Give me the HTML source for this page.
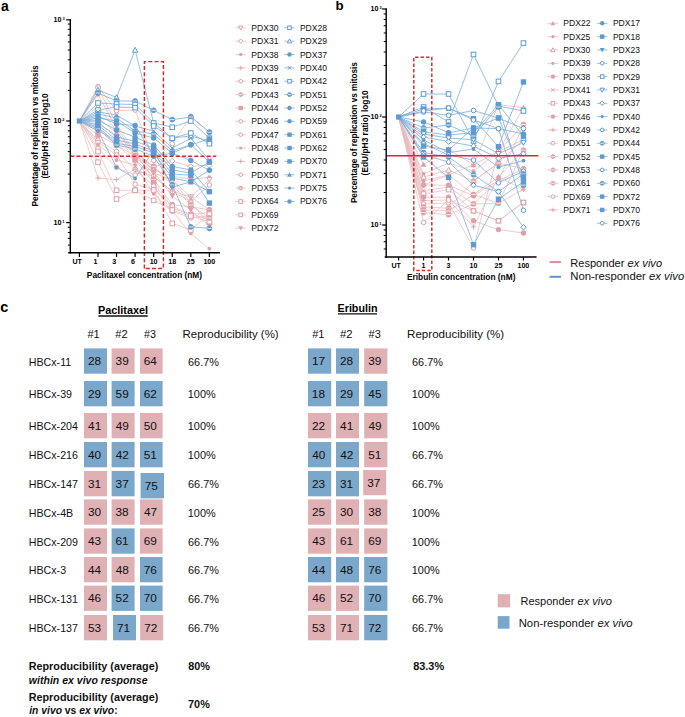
<!DOCTYPE html>
<html><head><meta charset="utf-8"><style>
html,body{margin:0;padding:0;background:#fff;}
body{width:685px;height:717px;overflow:hidden;}
svg{display:block;font-family:"Liberation Sans",sans-serif;}
</style></head><body>
<svg width="685" height="717" viewBox="0 0 685 717">
<rect width="685" height="717" fill="#fff"/>
<text x="0.88" y="10.5" font-size="14" font-weight="bold" font-style="normal" fill="#000" xml:space="preserve">a</text>
<text x="335.54" y="10.4" font-size="13.3" font-weight="bold" font-style="normal" fill="#000" xml:space="preserve">b</text>
<text x="0.32" y="311.9" font-size="14.5" font-weight="bold" font-style="normal" fill="#000" xml:space="preserve">c</text>
<polyline points="79.4,121 97.97,86.6 116.54,110.7 135.11,110 153.68,160.4 172.25,143.7 190.82,116.3 209.39,132.2" fill="none" stroke="#e9b9be" stroke-width="0.75"/>
<polyline points="79.4,121 97.97,88 116.54,124 135.11,152.5 153.68,166.4 172.25,161 190.82,166.4 209.39,165.3" fill="none" stroke="#e9b9be" stroke-width="0.75"/>
<polyline points="79.4,121 97.97,94.8 116.54,128 135.11,155 153.68,169.7 172.25,176.3 190.82,179 209.39,177.4" fill="none" stroke="#e9b9be" stroke-width="0.75"/>
<polyline points="79.4,121 97.97,106.6 116.54,131 135.11,157 153.68,173 172.25,180 190.82,197 209.39,179.6" fill="none" stroke="#e9b9be" stroke-width="0.75"/>
<polyline points="79.4,121 97.97,124 116.54,135 135.11,159.6 153.68,176.3 172.25,191.6 190.82,201.5 209.39,185" fill="none" stroke="#e9b9be" stroke-width="0.75"/>
<polyline points="79.4,121 97.97,131 116.54,140 135.11,152.5 153.68,179.6 172.25,204.7 190.82,207 209.39,209.7" fill="none" stroke="#e9b9be" stroke-width="0.75"/>
<polyline points="79.4,121 97.97,135.1 116.54,145 135.11,160 153.68,182.8 172.25,208 190.82,214.6 209.39,212.4" fill="none" stroke="#e9b9be" stroke-width="0.75"/>
<polyline points="79.4,121 97.97,140.2 116.54,151.5 135.11,169.3 153.68,186.1 172.25,211.3 190.82,217.9 209.39,215.7" fill="none" stroke="#e9b9be" stroke-width="0.75"/>
<polyline points="79.4,121 97.97,142.3 116.54,155 135.11,184.2 153.68,189.4 172.25,206 190.82,214.6 209.39,219" fill="none" stroke="#e9b9be" stroke-width="0.75"/>
<polyline points="79.4,121 97.97,144.3 116.54,160 135.11,165 153.68,193.8 172.25,211 190.82,233.4 209.39,248.7" fill="none" stroke="#e9b9be" stroke-width="0.75"/>
<polyline points="79.4,121 97.97,148.4 116.54,167.3 135.11,175 153.68,168 172.25,180 190.82,203 209.39,223.4" fill="none" stroke="#e9b9be" stroke-width="0.75"/>
<polyline points="79.4,121 97.97,151.5 116.54,190.3 135.11,190.3 153.68,200.4 172.25,210 190.82,216 209.39,222" fill="none" stroke="#e9b9be" stroke-width="0.75"/>
<polyline points="79.4,121 97.97,162.2 116.54,199 135.11,190.3 153.68,190 172.25,223.4 190.82,230 209.39,214" fill="none" stroke="#e9b9be" stroke-width="0.75"/>
<polyline points="79.4,121 97.97,178 116.54,179.6 135.11,169.3 153.68,177 172.25,191 190.82,197 209.39,210" fill="none" stroke="#e9b9be" stroke-width="0.75"/>
<polyline points="79.4,121 97.97,128 116.54,145 135.11,156 153.68,166.4 172.25,185 190.82,205 209.39,218" fill="none" stroke="#e9b9be" stroke-width="0.75"/>
<polyline points="79.4,121 97.97,118 116.54,133 135.11,150 153.68,172 172.25,196 190.82,210 209.39,226" fill="none" stroke="#e9b9be" stroke-width="0.75"/>
<polyline points="79.4,121 97.97,90 116.54,97.4 135.11,50 153.68,123 172.25,138 190.82,136 209.39,141" fill="none" stroke="#7aaedb" stroke-width="0.8"/>
<polyline points="79.4,121 97.97,93 116.54,101 135.11,101 153.68,110.3 172.25,119.6 190.82,117 209.39,132.2" fill="none" stroke="#7aaedb" stroke-width="0.8"/>
<polyline points="79.4,121 97.97,103 116.54,104 135.11,104.5 153.68,123 172.25,127.2 190.82,121 209.39,138.2" fill="none" stroke="#7aaedb" stroke-width="0.8"/>
<polyline points="79.4,121 97.97,110 116.54,107 135.11,107.6 153.68,126 172.25,138.2 190.82,133 209.39,143.7" fill="none" stroke="#7aaedb" stroke-width="0.8"/>
<polyline points="79.4,121 97.97,112 116.54,115 135.11,126 153.68,131 172.25,148 190.82,138.2 209.39,160" fill="none" stroke="#7aaedb" stroke-width="0.8"/>
<polyline points="79.4,121 97.97,114 116.54,118 135.11,131 153.68,134 172.25,151 190.82,144.7 209.39,162" fill="none" stroke="#7aaedb" stroke-width="0.8"/>
<polyline points="79.4,121 97.97,118 116.54,121 135.11,133 153.68,138 172.25,153.3 190.82,160.4 209.39,170.3" fill="none" stroke="#7aaedb" stroke-width="0.8"/>
<polyline points="79.4,121 97.97,120 116.54,130 135.11,137.2 153.68,145 172.25,166.4 190.82,170 209.39,191.6" fill="none" stroke="#7aaedb" stroke-width="0.8"/>
<polyline points="79.4,121 97.97,122 116.54,137 135.11,141.3 153.68,148 172.25,170 190.82,173 209.39,162" fill="none" stroke="#7aaedb" stroke-width="0.8"/>
<polyline points="79.4,121 97.97,125 116.54,140 135.11,144 153.68,151 172.25,174 190.82,175.2 209.39,203.1" fill="none" stroke="#7aaedb" stroke-width="0.8"/>
<polyline points="79.4,121 97.97,127 116.54,143.4 135.11,146.4 153.68,153 172.25,178 190.82,181.8 209.39,191.6" fill="none" stroke="#7aaedb" stroke-width="0.8"/>
<polyline points="79.4,121 97.97,129 116.54,145 135.11,149 153.68,156 172.25,185 190.82,226.9 209.39,228.4" fill="none" stroke="#7aaedb" stroke-width="0.8"/>
<polyline points="79.4,121 97.97,131 116.54,167.3 135.11,178.5 153.68,150 172.25,187.2 190.82,181.8 209.39,170.3" fill="none" stroke="#7aaedb" stroke-width="0.8"/>
<polyline points="79.4,121 97.97,116 116.54,124 135.11,125.5 153.68,155.7 172.25,153.3 190.82,144.7 209.39,139" fill="none" stroke="#7aaedb" stroke-width="0.8"/>
<circle cx="97.97" cy="86.6" r="2.3" fill="#fff" stroke="#dfa1a8" stroke-width="1"/>
<circle cx="116.54" cy="110.7" r="2.3" fill="#fff" stroke="#dfa1a8" stroke-width="1"/>
<circle cx="135.11" cy="110" r="2.3" fill="#fff" stroke="#dfa1a8" stroke-width="1"/>
<circle cx="153.68" cy="160.4" r="2.3" fill="#fff" stroke="#dfa1a8" stroke-width="1"/>
<circle cx="172.25" cy="143.7" r="2.3" fill="#fff" stroke="#dfa1a8" stroke-width="1"/>
<circle cx="190.82" cy="116.3" r="2.3" fill="#fff" stroke="#dfa1a8" stroke-width="1"/>
<circle cx="209.39" cy="132.2" r="2.3" fill="#fff" stroke="#dfa1a8" stroke-width="1"/>
<path d="M97.97 85.3L100.67 88L97.97 90.7L95.27 88Z" fill="#fff" stroke="#dfa1a8" stroke-width="1"/>
<path d="M116.54 121.3L119.24 124L116.54 126.7L113.84 124Z" fill="#fff" stroke="#dfa1a8" stroke-width="1"/>
<path d="M135.11 149.8L137.81 152.5L135.11 155.2L132.41 152.5Z" fill="#fff" stroke="#dfa1a8" stroke-width="1"/>
<path d="M153.68 163.7L156.38 166.4L153.68 169.1L150.98 166.4Z" fill="#fff" stroke="#dfa1a8" stroke-width="1"/>
<path d="M172.25 158.3L174.95 161L172.25 163.7L169.55 161Z" fill="#fff" stroke="#dfa1a8" stroke-width="1"/>
<path d="M190.82 163.7L193.52 166.4L190.82 169.1L188.12 166.4Z" fill="#fff" stroke="#dfa1a8" stroke-width="1"/>
<path d="M209.39 162.6L212.09 165.3L209.39 168L206.69 165.3Z" fill="#fff" stroke="#dfa1a8" stroke-width="1"/>
<circle cx="97.97" cy="94.8" r="2.03" fill="#dfa1a8"/>
<circle cx="116.54" cy="128" r="2.03" fill="#dfa1a8"/>
<circle cx="135.11" cy="155" r="2.03" fill="#dfa1a8"/>
<circle cx="153.68" cy="169.7" r="2.03" fill="#dfa1a8"/>
<circle cx="172.25" cy="176.3" r="2.03" fill="#dfa1a8"/>
<circle cx="190.82" cy="179" r="2.03" fill="#dfa1a8"/>
<circle cx="209.39" cy="177.4" r="2.03" fill="#dfa1a8"/>
<path d="M97.97 109.3L100.67 104.44L95.27 104.44Z" fill="#fff" stroke="#dfa1a8" stroke-width="1"/>
<path d="M116.54 133.7L119.24 128.84L113.84 128.84Z" fill="#fff" stroke="#dfa1a8" stroke-width="1"/>
<path d="M135.11 159.7L137.81 154.84L132.41 154.84Z" fill="#fff" stroke="#dfa1a8" stroke-width="1"/>
<path d="M153.68 175.7L156.38 170.84L150.98 170.84Z" fill="#fff" stroke="#dfa1a8" stroke-width="1"/>
<path d="M172.25 182.7L174.95 177.84L169.55 177.84Z" fill="#fff" stroke="#dfa1a8" stroke-width="1"/>
<path d="M190.82 199.7L193.52 194.84L188.12 194.84Z" fill="#fff" stroke="#dfa1a8" stroke-width="1"/>
<path d="M209.39 182.3L212.09 177.44L206.69 177.44Z" fill="#fff" stroke="#dfa1a8" stroke-width="1"/>
<circle cx="97.97" cy="124" r="2.3" fill="#fff" stroke="#dfa1a8" stroke-width="1"/>
<circle cx="116.54" cy="135" r="2.3" fill="#fff" stroke="#dfa1a8" stroke-width="1"/>
<circle cx="135.11" cy="159.6" r="2.3" fill="#fff" stroke="#dfa1a8" stroke-width="1"/>
<circle cx="153.68" cy="176.3" r="2.3" fill="#fff" stroke="#dfa1a8" stroke-width="1"/>
<circle cx="172.25" cy="191.6" r="2.3" fill="#fff" stroke="#dfa1a8" stroke-width="1"/>
<circle cx="190.82" cy="201.5" r="2.3" fill="#fff" stroke="#dfa1a8" stroke-width="1"/>
<circle cx="209.39" cy="185" r="2.3" fill="#fff" stroke="#dfa1a8" stroke-width="1"/>
<circle cx="97.97" cy="131" r="2.4" fill="#dfa1a8" stroke="#dfa1a8" stroke-width="1"/>
<line x1="95.77" y1="131" x2="100.17" y2="131" stroke="#fff" stroke-width="0.8"/>
<circle cx="116.54" cy="140" r="2.4" fill="#dfa1a8" stroke="#dfa1a8" stroke-width="1"/>
<line x1="114.34" y1="140" x2="118.74" y2="140" stroke="#fff" stroke-width="0.8"/>
<circle cx="135.11" cy="152.5" r="2.4" fill="#dfa1a8" stroke="#dfa1a8" stroke-width="1"/>
<line x1="132.91" y1="152.5" x2="137.31" y2="152.5" stroke="#fff" stroke-width="0.8"/>
<circle cx="153.68" cy="179.6" r="2.4" fill="#dfa1a8" stroke="#dfa1a8" stroke-width="1"/>
<line x1="151.48" y1="179.6" x2="155.88" y2="179.6" stroke="#fff" stroke-width="0.8"/>
<circle cx="172.25" cy="204.7" r="2.4" fill="#dfa1a8" stroke="#dfa1a8" stroke-width="1"/>
<line x1="170.05" y1="204.7" x2="174.45" y2="204.7" stroke="#fff" stroke-width="0.8"/>
<circle cx="190.82" cy="207" r="2.4" fill="#dfa1a8" stroke="#dfa1a8" stroke-width="1"/>
<line x1="188.62" y1="207" x2="193.02" y2="207" stroke="#fff" stroke-width="0.8"/>
<circle cx="209.39" cy="209.7" r="2.4" fill="#dfa1a8" stroke="#dfa1a8" stroke-width="1"/>
<line x1="207.19" y1="209.7" x2="211.59" y2="209.7" stroke="#fff" stroke-width="0.8"/>
<rect x="95.27" y="132.4" width="5.4" height="5.4" fill="#dfa1a8"/>
<rect x="113.84" y="142.3" width="5.4" height="5.4" fill="#dfa1a8"/>
<rect x="132.41" y="157.3" width="5.4" height="5.4" fill="#dfa1a8"/>
<rect x="150.98" y="180.1" width="5.4" height="5.4" fill="#dfa1a8"/>
<rect x="169.55" y="205.3" width="5.4" height="5.4" fill="#dfa1a8"/>
<rect x="188.12" y="211.9" width="5.4" height="5.4" fill="#dfa1a8"/>
<rect x="206.69" y="209.7" width="5.4" height="5.4" fill="#dfa1a8"/>
<circle cx="97.97" cy="140.2" r="2.3" fill="#fff" stroke="#dfa1a8" stroke-width="1"/>
<circle cx="116.54" cy="151.5" r="2.3" fill="#fff" stroke="#dfa1a8" stroke-width="1"/>
<circle cx="135.11" cy="169.3" r="2.3" fill="#fff" stroke="#dfa1a8" stroke-width="1"/>
<circle cx="153.68" cy="186.1" r="2.3" fill="#fff" stroke="#dfa1a8" stroke-width="1"/>
<circle cx="172.25" cy="211.3" r="2.3" fill="#fff" stroke="#dfa1a8" stroke-width="1"/>
<circle cx="190.82" cy="217.9" r="2.3" fill="#fff" stroke="#dfa1a8" stroke-width="1"/>
<circle cx="209.39" cy="215.7" r="2.3" fill="#fff" stroke="#dfa1a8" stroke-width="1"/>
<circle cx="97.97" cy="142.3" r="2.3" fill="#fff" stroke="#dfa1a8" stroke-width="1"/>
<circle cx="116.54" cy="155" r="2.3" fill="#fff" stroke="#dfa1a8" stroke-width="1"/>
<circle cx="135.11" cy="184.2" r="2.3" fill="#fff" stroke="#dfa1a8" stroke-width="1"/>
<circle cx="153.68" cy="189.4" r="2.3" fill="#fff" stroke="#dfa1a8" stroke-width="1"/>
<circle cx="172.25" cy="206" r="2.3" fill="#fff" stroke="#dfa1a8" stroke-width="1"/>
<circle cx="190.82" cy="214.6" r="2.3" fill="#fff" stroke="#dfa1a8" stroke-width="1"/>
<circle cx="209.39" cy="219" r="2.3" fill="#fff" stroke="#dfa1a8" stroke-width="1"/>
<circle cx="97.97" cy="144.3" r="1.89" fill="#dfa1a8"/>
<circle cx="116.54" cy="160" r="1.89" fill="#dfa1a8"/>
<circle cx="135.11" cy="165" r="1.89" fill="#dfa1a8"/>
<circle cx="153.68" cy="193.8" r="1.89" fill="#dfa1a8"/>
<circle cx="172.25" cy="211" r="1.89" fill="#dfa1a8"/>
<circle cx="190.82" cy="233.4" r="1.89" fill="#dfa1a8"/>
<circle cx="209.39" cy="248.7" r="1.89" fill="#dfa1a8"/>
<circle cx="97.97" cy="148.4" r="2.3" fill="#fff" stroke="#dfa1a8" stroke-width="1"/>
<circle cx="116.54" cy="167.3" r="2.3" fill="#fff" stroke="#dfa1a8" stroke-width="1"/>
<circle cx="135.11" cy="175" r="2.3" fill="#fff" stroke="#dfa1a8" stroke-width="1"/>
<circle cx="153.68" cy="168" r="2.3" fill="#fff" stroke="#dfa1a8" stroke-width="1"/>
<circle cx="172.25" cy="180" r="2.3" fill="#fff" stroke="#dfa1a8" stroke-width="1"/>
<circle cx="190.82" cy="203" r="2.3" fill="#fff" stroke="#dfa1a8" stroke-width="1"/>
<circle cx="209.39" cy="223.4" r="2.3" fill="#fff" stroke="#dfa1a8" stroke-width="1"/>
<rect x="95.67" y="149.2" width="4.6" height="4.6" fill="#fff" stroke="#dfa1a8" stroke-width="1"/>
<rect x="114.24" y="188" width="4.6" height="4.6" fill="#fff" stroke="#dfa1a8" stroke-width="1"/>
<rect x="132.81" y="188" width="4.6" height="4.6" fill="#fff" stroke="#dfa1a8" stroke-width="1"/>
<rect x="151.38" y="198.1" width="4.6" height="4.6" fill="#fff" stroke="#dfa1a8" stroke-width="1"/>
<rect x="169.95" y="207.7" width="4.6" height="4.6" fill="#fff" stroke="#dfa1a8" stroke-width="1"/>
<rect x="188.52" y="213.7" width="4.6" height="4.6" fill="#fff" stroke="#dfa1a8" stroke-width="1"/>
<rect x="207.09" y="219.7" width="4.6" height="4.6" fill="#fff" stroke="#dfa1a8" stroke-width="1"/>
<rect x="95.67" y="159.9" width="4.6" height="4.6" fill="#fff" stroke="#dfa1a8" stroke-width="1"/>
<rect x="114.24" y="196.7" width="4.6" height="4.6" fill="#fff" stroke="#dfa1a8" stroke-width="1"/>
<rect x="132.81" y="188" width="4.6" height="4.6" fill="#fff" stroke="#dfa1a8" stroke-width="1"/>
<rect x="151.38" y="187.7" width="4.6" height="4.6" fill="#fff" stroke="#dfa1a8" stroke-width="1"/>
<rect x="169.95" y="221.1" width="4.6" height="4.6" fill="#fff" stroke="#dfa1a8" stroke-width="1"/>
<rect x="188.52" y="227.7" width="4.6" height="4.6" fill="#fff" stroke="#dfa1a8" stroke-width="1"/>
<rect x="207.09" y="211.7" width="4.6" height="4.6" fill="#fff" stroke="#dfa1a8" stroke-width="1"/>
<line x1="95.27" y1="178" x2="100.67" y2="178" stroke="#dfa1a8" stroke-width="0.9"/>
<line x1="97.97" y1="175.3" x2="97.97" y2="180.7" stroke="#dfa1a8" stroke-width="0.9"/>
<line x1="113.84" y1="179.6" x2="119.24" y2="179.6" stroke="#dfa1a8" stroke-width="0.9"/>
<line x1="116.54" y1="176.9" x2="116.54" y2="182.3" stroke="#dfa1a8" stroke-width="0.9"/>
<line x1="132.41" y1="169.3" x2="137.81" y2="169.3" stroke="#dfa1a8" stroke-width="0.9"/>
<line x1="135.11" y1="166.6" x2="135.11" y2="172" stroke="#dfa1a8" stroke-width="0.9"/>
<line x1="150.98" y1="177" x2="156.38" y2="177" stroke="#dfa1a8" stroke-width="0.9"/>
<line x1="153.68" y1="174.3" x2="153.68" y2="179.7" stroke="#dfa1a8" stroke-width="0.9"/>
<line x1="169.55" y1="191" x2="174.95" y2="191" stroke="#dfa1a8" stroke-width="0.9"/>
<line x1="172.25" y1="188.3" x2="172.25" y2="193.7" stroke="#dfa1a8" stroke-width="0.9"/>
<line x1="188.12" y1="197" x2="193.52" y2="197" stroke="#dfa1a8" stroke-width="0.9"/>
<line x1="190.82" y1="194.3" x2="190.82" y2="199.7" stroke="#dfa1a8" stroke-width="0.9"/>
<line x1="206.69" y1="210" x2="212.09" y2="210" stroke="#dfa1a8" stroke-width="0.9"/>
<line x1="209.39" y1="207.3" x2="209.39" y2="212.7" stroke="#dfa1a8" stroke-width="0.9"/>
<circle cx="97.97" cy="128" r="2.4" fill="#dfa1a8" stroke="#dfa1a8" stroke-width="1"/>
<line x1="95.77" y1="128" x2="100.17" y2="128" stroke="#fff" stroke-width="0.8"/>
<circle cx="116.54" cy="145" r="2.4" fill="#dfa1a8" stroke="#dfa1a8" stroke-width="1"/>
<line x1="114.34" y1="145" x2="118.74" y2="145" stroke="#fff" stroke-width="0.8"/>
<circle cx="135.11" cy="156" r="2.4" fill="#dfa1a8" stroke="#dfa1a8" stroke-width="1"/>
<line x1="132.91" y1="156" x2="137.31" y2="156" stroke="#fff" stroke-width="0.8"/>
<circle cx="153.68" cy="166.4" r="2.4" fill="#dfa1a8" stroke="#dfa1a8" stroke-width="1"/>
<line x1="151.48" y1="166.4" x2="155.88" y2="166.4" stroke="#fff" stroke-width="0.8"/>
<circle cx="172.25" cy="185" r="2.4" fill="#dfa1a8" stroke="#dfa1a8" stroke-width="1"/>
<line x1="170.05" y1="185" x2="174.45" y2="185" stroke="#fff" stroke-width="0.8"/>
<circle cx="190.82" cy="205" r="2.4" fill="#dfa1a8" stroke="#dfa1a8" stroke-width="1"/>
<line x1="188.62" y1="205" x2="193.02" y2="205" stroke="#fff" stroke-width="0.8"/>
<circle cx="209.39" cy="218" r="2.4" fill="#dfa1a8" stroke="#dfa1a8" stroke-width="1"/>
<line x1="207.19" y1="218" x2="211.59" y2="218" stroke="#fff" stroke-width="0.8"/>
<path d="M97.97 120.97L100.94 115.57L95 115.57Z" fill="#dfa1a8"/>
<path d="M116.54 135.97L119.51 130.57L113.57 130.57Z" fill="#dfa1a8"/>
<path d="M135.11 152.97L138.08 147.57L132.14 147.57Z" fill="#dfa1a8"/>
<path d="M153.68 174.97L156.65 169.57L150.71 169.57Z" fill="#dfa1a8"/>
<path d="M172.25 198.97L175.22 193.57L169.28 193.57Z" fill="#dfa1a8"/>
<path d="M190.82 212.97L193.79 207.57L187.85 207.57Z" fill="#dfa1a8"/>
<path d="M209.39 228.97L212.36 223.57L206.42 223.57Z" fill="#dfa1a8"/>
<path d="M97.97 87.3L100.67 92.16L95.27 92.16Z" fill="#fff" stroke="#5f9bd0" stroke-width="1"/>
<path d="M116.54 94.7L119.24 99.56L113.84 99.56Z" fill="#fff" stroke="#5f9bd0" stroke-width="1"/>
<path d="M135.11 47.3L137.81 52.16L132.41 52.16Z" fill="#fff" stroke="#5f9bd0" stroke-width="1"/>
<path d="M153.68 120.3L156.38 125.16L150.98 125.16Z" fill="#fff" stroke="#5f9bd0" stroke-width="1"/>
<path d="M172.25 135.3L174.95 140.16L169.55 140.16Z" fill="#fff" stroke="#5f9bd0" stroke-width="1"/>
<path d="M190.82 133.3L193.52 138.16L188.12 138.16Z" fill="#fff" stroke="#5f9bd0" stroke-width="1"/>
<path d="M209.39 138.3L212.09 143.16L206.69 143.16Z" fill="#fff" stroke="#5f9bd0" stroke-width="1"/>
<circle cx="97.97" cy="93" r="2.4" fill="#5f9bd0" stroke="#5f9bd0" stroke-width="1"/>
<line x1="95.77" y1="93" x2="100.17" y2="93" stroke="#fff" stroke-width="0.8"/>
<circle cx="116.54" cy="101" r="2.4" fill="#5f9bd0" stroke="#5f9bd0" stroke-width="1"/>
<line x1="114.34" y1="101" x2="118.74" y2="101" stroke="#fff" stroke-width="0.8"/>
<circle cx="135.11" cy="101" r="2.4" fill="#5f9bd0" stroke="#5f9bd0" stroke-width="1"/>
<line x1="132.91" y1="101" x2="137.31" y2="101" stroke="#fff" stroke-width="0.8"/>
<circle cx="153.68" cy="110.3" r="2.4" fill="#5f9bd0" stroke="#5f9bd0" stroke-width="1"/>
<line x1="151.48" y1="110.3" x2="155.88" y2="110.3" stroke="#fff" stroke-width="0.8"/>
<circle cx="172.25" cy="119.6" r="2.4" fill="#5f9bd0" stroke="#5f9bd0" stroke-width="1"/>
<line x1="170.05" y1="119.6" x2="174.45" y2="119.6" stroke="#fff" stroke-width="0.8"/>
<circle cx="190.82" cy="117" r="2.4" fill="#5f9bd0" stroke="#5f9bd0" stroke-width="1"/>
<line x1="188.62" y1="117" x2="193.02" y2="117" stroke="#fff" stroke-width="0.8"/>
<circle cx="209.39" cy="132.2" r="2.4" fill="#5f9bd0" stroke="#5f9bd0" stroke-width="1"/>
<line x1="207.19" y1="132.2" x2="211.59" y2="132.2" stroke="#fff" stroke-width="0.8"/>
<rect x="95.67" y="100.7" width="4.6" height="4.6" fill="#fff" stroke="#5f9bd0" stroke-width="1"/>
<rect x="114.24" y="101.7" width="4.6" height="4.6" fill="#fff" stroke="#5f9bd0" stroke-width="1"/>
<rect x="132.81" y="102.2" width="4.6" height="4.6" fill="#fff" stroke="#5f9bd0" stroke-width="1"/>
<rect x="151.38" y="120.7" width="4.6" height="4.6" fill="#fff" stroke="#5f9bd0" stroke-width="1"/>
<rect x="169.95" y="124.9" width="4.6" height="4.6" fill="#fff" stroke="#5f9bd0" stroke-width="1"/>
<rect x="188.52" y="118.7" width="4.6" height="4.6" fill="#fff" stroke="#5f9bd0" stroke-width="1"/>
<rect x="207.09" y="135.9" width="4.6" height="4.6" fill="#fff" stroke="#5f9bd0" stroke-width="1"/>
<rect x="95.67" y="107.7" width="4.6" height="4.6" fill="#fff" stroke="#5f9bd0" stroke-width="1"/>
<rect x="114.24" y="104.7" width="4.6" height="4.6" fill="#fff" stroke="#5f9bd0" stroke-width="1"/>
<rect x="132.81" y="105.3" width="4.6" height="4.6" fill="#fff" stroke="#5f9bd0" stroke-width="1"/>
<rect x="151.38" y="123.7" width="4.6" height="4.6" fill="#fff" stroke="#5f9bd0" stroke-width="1"/>
<rect x="169.95" y="135.9" width="4.6" height="4.6" fill="#fff" stroke="#5f9bd0" stroke-width="1"/>
<rect x="188.52" y="130.7" width="4.6" height="4.6" fill="#fff" stroke="#5f9bd0" stroke-width="1"/>
<rect x="207.09" y="141.4" width="4.6" height="4.6" fill="#fff" stroke="#5f9bd0" stroke-width="1"/>
<line x1="95.81" y1="109.84" x2="100.13" y2="114.16" stroke="#5f9bd0" stroke-width="0.9"/>
<line x1="95.81" y1="114.16" x2="100.13" y2="109.84" stroke="#5f9bd0" stroke-width="0.9"/>
<line x1="114.38" y1="112.84" x2="118.7" y2="117.16" stroke="#5f9bd0" stroke-width="0.9"/>
<line x1="114.38" y1="117.16" x2="118.7" y2="112.84" stroke="#5f9bd0" stroke-width="0.9"/>
<line x1="132.95" y1="123.84" x2="137.27" y2="128.16" stroke="#5f9bd0" stroke-width="0.9"/>
<line x1="132.95" y1="128.16" x2="137.27" y2="123.84" stroke="#5f9bd0" stroke-width="0.9"/>
<line x1="151.52" y1="128.84" x2="155.84" y2="133.16" stroke="#5f9bd0" stroke-width="0.9"/>
<line x1="151.52" y1="133.16" x2="155.84" y2="128.84" stroke="#5f9bd0" stroke-width="0.9"/>
<line x1="170.09" y1="145.84" x2="174.41" y2="150.16" stroke="#5f9bd0" stroke-width="0.9"/>
<line x1="170.09" y1="150.16" x2="174.41" y2="145.84" stroke="#5f9bd0" stroke-width="0.9"/>
<line x1="188.66" y1="136.04" x2="192.98" y2="140.36" stroke="#5f9bd0" stroke-width="0.9"/>
<line x1="188.66" y1="140.36" x2="192.98" y2="136.04" stroke="#5f9bd0" stroke-width="0.9"/>
<line x1="207.23" y1="157.84" x2="211.55" y2="162.16" stroke="#5f9bd0" stroke-width="0.9"/>
<line x1="207.23" y1="162.16" x2="211.55" y2="157.84" stroke="#5f9bd0" stroke-width="0.9"/>
<circle cx="97.97" cy="114" r="2.4" fill="#5f9bd0" stroke="#5f9bd0" stroke-width="1"/>
<line x1="95.77" y1="114" x2="100.17" y2="114" stroke="#fff" stroke-width="0.8"/>
<circle cx="116.54" cy="118" r="2.4" fill="#5f9bd0" stroke="#5f9bd0" stroke-width="1"/>
<line x1="114.34" y1="118" x2="118.74" y2="118" stroke="#fff" stroke-width="0.8"/>
<circle cx="135.11" cy="131" r="2.4" fill="#5f9bd0" stroke="#5f9bd0" stroke-width="1"/>
<line x1="132.91" y1="131" x2="137.31" y2="131" stroke="#fff" stroke-width="0.8"/>
<circle cx="153.68" cy="134" r="2.4" fill="#5f9bd0" stroke="#5f9bd0" stroke-width="1"/>
<line x1="151.48" y1="134" x2="155.88" y2="134" stroke="#fff" stroke-width="0.8"/>
<circle cx="172.25" cy="151" r="2.4" fill="#5f9bd0" stroke="#5f9bd0" stroke-width="1"/>
<line x1="170.05" y1="151" x2="174.45" y2="151" stroke="#fff" stroke-width="0.8"/>
<circle cx="190.82" cy="144.7" r="2.4" fill="#5f9bd0" stroke="#5f9bd0" stroke-width="1"/>
<line x1="188.62" y1="144.7" x2="193.02" y2="144.7" stroke="#fff" stroke-width="0.8"/>
<circle cx="209.39" cy="162" r="2.4" fill="#5f9bd0" stroke="#5f9bd0" stroke-width="1"/>
<line x1="207.19" y1="162" x2="211.59" y2="162" stroke="#fff" stroke-width="0.8"/>
<circle cx="97.97" cy="118" r="2.7" fill="#5f9bd0"/>
<circle cx="116.54" cy="121" r="2.7" fill="#5f9bd0"/>
<circle cx="135.11" cy="133" r="2.7" fill="#5f9bd0"/>
<circle cx="153.68" cy="138" r="2.7" fill="#5f9bd0"/>
<circle cx="172.25" cy="153.3" r="2.7" fill="#5f9bd0"/>
<circle cx="190.82" cy="160.4" r="2.7" fill="#5f9bd0"/>
<circle cx="209.39" cy="170.3" r="2.7" fill="#5f9bd0"/>
<circle cx="97.97" cy="120" r="2.7" fill="#5f9bd0"/>
<circle cx="116.54" cy="130" r="2.7" fill="#5f9bd0"/>
<circle cx="135.11" cy="137.2" r="2.7" fill="#5f9bd0"/>
<circle cx="153.68" cy="145" r="2.7" fill="#5f9bd0"/>
<circle cx="172.25" cy="166.4" r="2.7" fill="#5f9bd0"/>
<circle cx="190.82" cy="170" r="2.7" fill="#5f9bd0"/>
<circle cx="209.39" cy="191.6" r="2.7" fill="#5f9bd0"/>
<rect x="95.27" y="119.3" width="5.4" height="5.4" fill="#5f9bd0"/>
<rect x="113.84" y="134.3" width="5.4" height="5.4" fill="#5f9bd0"/>
<rect x="132.41" y="138.6" width="5.4" height="5.4" fill="#5f9bd0"/>
<rect x="150.98" y="145.3" width="5.4" height="5.4" fill="#5f9bd0"/>
<rect x="169.55" y="167.3" width="5.4" height="5.4" fill="#5f9bd0"/>
<rect x="188.12" y="170.3" width="5.4" height="5.4" fill="#5f9bd0"/>
<rect x="206.69" y="159.3" width="5.4" height="5.4" fill="#5f9bd0"/>
<rect x="95.27" y="122.3" width="5.4" height="5.4" fill="#5f9bd0"/>
<rect x="113.84" y="137.3" width="5.4" height="5.4" fill="#5f9bd0"/>
<rect x="132.41" y="141.3" width="5.4" height="5.4" fill="#5f9bd0"/>
<rect x="150.98" y="148.3" width="5.4" height="5.4" fill="#5f9bd0"/>
<rect x="169.55" y="171.3" width="5.4" height="5.4" fill="#5f9bd0"/>
<rect x="188.12" y="172.5" width="5.4" height="5.4" fill="#5f9bd0"/>
<rect x="206.69" y="200.4" width="5.4" height="5.4" fill="#5f9bd0"/>
<rect x="95.27" y="124.3" width="5.4" height="5.4" fill="#5f9bd0"/>
<rect x="113.84" y="140.7" width="5.4" height="5.4" fill="#5f9bd0"/>
<rect x="132.41" y="143.7" width="5.4" height="5.4" fill="#5f9bd0"/>
<rect x="150.98" y="150.3" width="5.4" height="5.4" fill="#5f9bd0"/>
<rect x="169.55" y="175.3" width="5.4" height="5.4" fill="#5f9bd0"/>
<rect x="188.12" y="179.1" width="5.4" height="5.4" fill="#5f9bd0"/>
<rect x="206.69" y="188.9" width="5.4" height="5.4" fill="#5f9bd0"/>
<circle cx="97.97" cy="129" r="2.4" fill="#5f9bd0" stroke="#5f9bd0" stroke-width="1"/>
<line x1="95.77" y1="129" x2="100.17" y2="129" stroke="#fff" stroke-width="0.8"/>
<circle cx="116.54" cy="145" r="2.4" fill="#5f9bd0" stroke="#5f9bd0" stroke-width="1"/>
<line x1="114.34" y1="145" x2="118.74" y2="145" stroke="#fff" stroke-width="0.8"/>
<circle cx="135.11" cy="149" r="2.4" fill="#5f9bd0" stroke="#5f9bd0" stroke-width="1"/>
<line x1="132.91" y1="149" x2="137.31" y2="149" stroke="#fff" stroke-width="0.8"/>
<circle cx="153.68" cy="156" r="2.4" fill="#5f9bd0" stroke="#5f9bd0" stroke-width="1"/>
<line x1="151.48" y1="156" x2="155.88" y2="156" stroke="#fff" stroke-width="0.8"/>
<circle cx="172.25" cy="185" r="2.4" fill="#5f9bd0" stroke="#5f9bd0" stroke-width="1"/>
<line x1="170.05" y1="185" x2="174.45" y2="185" stroke="#fff" stroke-width="0.8"/>
<circle cx="190.82" cy="226.9" r="2.4" fill="#5f9bd0" stroke="#5f9bd0" stroke-width="1"/>
<line x1="188.62" y1="226.9" x2="193.02" y2="226.9" stroke="#fff" stroke-width="0.8"/>
<circle cx="209.39" cy="228.4" r="2.4" fill="#5f9bd0" stroke="#5f9bd0" stroke-width="1"/>
<line x1="207.19" y1="228.4" x2="211.59" y2="228.4" stroke="#fff" stroke-width="0.8"/>
<circle cx="97.97" cy="131" r="1.89" fill="#5f9bd0"/>
<circle cx="116.54" cy="167.3" r="1.89" fill="#5f9bd0"/>
<circle cx="135.11" cy="178.5" r="1.89" fill="#5f9bd0"/>
<circle cx="153.68" cy="150" r="1.89" fill="#5f9bd0"/>
<circle cx="172.25" cy="187.2" r="1.89" fill="#5f9bd0"/>
<circle cx="190.82" cy="181.8" r="1.89" fill="#5f9bd0"/>
<circle cx="209.39" cy="170.3" r="1.89" fill="#5f9bd0"/>
<circle cx="97.97" cy="116" r="2.7" fill="#5f9bd0"/>
<circle cx="116.54" cy="124" r="2.7" fill="#5f9bd0"/>
<circle cx="135.11" cy="125.5" r="2.7" fill="#5f9bd0"/>
<circle cx="153.68" cy="155.7" r="2.7" fill="#5f9bd0"/>
<circle cx="172.25" cy="153.3" r="2.7" fill="#5f9bd0"/>
<circle cx="190.82" cy="144.7" r="2.7" fill="#5f9bd0"/>
<circle cx="209.39" cy="139" r="2.7" fill="#5f9bd0"/>
<rect x="76.8" y="118.4" width="5.2" height="5.2" fill="#5f9bd0"/>
<line x1="70.3" y1="156.3" x2="216.2" y2="156.3" stroke="#d42a2a" stroke-width="1.45" stroke-dasharray="4 2.2"/>
<path d="M144.4 268.5V61.6H163.4V268.5Z" fill="none" stroke="#d42a2a" stroke-width="1.45" stroke-dasharray="4 2.2"/>
<line x1="70.3" y1="19.2" x2="70.3" y2="253.4" stroke="#000" stroke-width="1.4"/>
<line x1="66.2" y1="19.85" x2="70.8" y2="19.85" stroke="#000" stroke-width="1.2"/>
<line x1="66.2" y1="121" x2="70.8" y2="121" stroke="#000" stroke-width="1.2"/>
<line x1="66.2" y1="222.6" x2="70.8" y2="222.6" stroke="#000" stroke-width="1.2"/>
<line x1="67.8" y1="90.42" x2="70.3" y2="90.42" stroke="#000" stroke-width="1"/>
<line x1="67.8" y1="72.52" x2="70.3" y2="72.52" stroke="#000" stroke-width="1"/>
<line x1="67.8" y1="59.83" x2="70.3" y2="59.83" stroke="#000" stroke-width="1"/>
<line x1="67.8" y1="49.98" x2="70.3" y2="49.98" stroke="#000" stroke-width="1"/>
<line x1="67.8" y1="41.94" x2="70.3" y2="41.94" stroke="#000" stroke-width="1"/>
<line x1="67.8" y1="35.14" x2="70.3" y2="35.14" stroke="#000" stroke-width="1"/>
<line x1="67.8" y1="29.25" x2="70.3" y2="29.25" stroke="#000" stroke-width="1"/>
<line x1="67.8" y1="24.05" x2="70.3" y2="24.05" stroke="#000" stroke-width="1"/>
<line x1="67.8" y1="192.02" x2="70.3" y2="192.02" stroke="#000" stroke-width="1"/>
<line x1="67.8" y1="174.12" x2="70.3" y2="174.12" stroke="#000" stroke-width="1"/>
<line x1="67.8" y1="161.43" x2="70.3" y2="161.43" stroke="#000" stroke-width="1"/>
<line x1="67.8" y1="151.58" x2="70.3" y2="151.58" stroke="#000" stroke-width="1"/>
<line x1="67.8" y1="143.54" x2="70.3" y2="143.54" stroke="#000" stroke-width="1"/>
<line x1="67.8" y1="136.74" x2="70.3" y2="136.74" stroke="#000" stroke-width="1"/>
<line x1="67.8" y1="130.85" x2="70.3" y2="130.85" stroke="#000" stroke-width="1"/>
<line x1="67.8" y1="125.65" x2="70.3" y2="125.65" stroke="#000" stroke-width="1"/>
<line x1="67.8" y1="245.14" x2="70.3" y2="245.14" stroke="#000" stroke-width="1"/>
<line x1="67.8" y1="238.34" x2="70.3" y2="238.34" stroke="#000" stroke-width="1"/>
<line x1="67.8" y1="232.45" x2="70.3" y2="232.45" stroke="#000" stroke-width="1"/>
<line x1="67.8" y1="227.25" x2="70.3" y2="227.25" stroke="#000" stroke-width="1"/>
<line x1="68.2" y1="252.8" x2="219.9" y2="252.8" stroke="#000" stroke-width="1.5"/>
<line x1="79.4" y1="252.8" x2="79.4" y2="256.9" stroke="#000" stroke-width="1.2"/>
<line x1="97.97" y1="252.8" x2="97.97" y2="256.9" stroke="#000" stroke-width="1.2"/>
<line x1="116.54" y1="252.8" x2="116.54" y2="256.9" stroke="#000" stroke-width="1.2"/>
<line x1="135.11" y1="252.8" x2="135.11" y2="256.9" stroke="#000" stroke-width="1.2"/>
<line x1="153.68" y1="252.8" x2="153.68" y2="256.9" stroke="#000" stroke-width="1.2"/>
<line x1="172.25" y1="252.8" x2="172.25" y2="256.9" stroke="#000" stroke-width="1.2"/>
<line x1="190.82" y1="252.8" x2="190.82" y2="256.9" stroke="#000" stroke-width="1.2"/>
<line x1="209.39" y1="252.8" x2="209.39" y2="256.9" stroke="#000" stroke-width="1.2"/>
<text x="72.4" y="264.4" font-size="7.1" font-weight="bold" font-style="normal" fill="#000" xml:space="preserve">UT</text>
<text x="93.58" y="264.4" font-size="7.1" font-weight="bold" font-style="normal" fill="#000" xml:space="preserve">1</text>
<text x="112.31" y="264.4" font-size="7.1" font-weight="bold" font-style="normal" fill="#000" xml:space="preserve">3</text>
<text x="130.94" y="264.4" font-size="7.1" font-weight="bold" font-style="normal" fill="#000" xml:space="preserve">6</text>
<text x="149.67" y="264.4" font-size="7.1" font-weight="bold" font-style="normal" fill="#000" xml:space="preserve">10</text>
<text x="168.2" y="264.4" font-size="7.1" font-weight="bold" font-style="normal" fill="#000" xml:space="preserve">18</text>
<text x="186.84" y="264.4" font-size="7.1" font-weight="bold" font-style="normal" fill="#000" xml:space="preserve">25</text>
<text x="203.41" y="264.4" font-size="7.1" font-weight="bold" font-style="normal" fill="#000" xml:space="preserve">100</text>
<text x="53.47" y="22.25" font-size="7.1" font-weight="bold" font-style="normal" fill="#000" textLength="7.93" lengthAdjust="spacingAndGlyphs" xml:space="preserve">10</text>
<text x="62.4" y="19.85" font-size="4" font-weight="bold" font-style="normal" fill="#000" xml:space="preserve">3</text>
<text x="53.47" y="123.4" font-size="7.1" font-weight="bold" font-style="normal" fill="#000" textLength="7.93" lengthAdjust="spacingAndGlyphs" xml:space="preserve">10</text>
<text x="62.36" y="121" font-size="4" font-weight="bold" font-style="normal" fill="#000" xml:space="preserve">2</text>
<text x="53.47" y="225" font-size="7.1" font-weight="bold" font-style="normal" fill="#000" textLength="7.93" lengthAdjust="spacingAndGlyphs" xml:space="preserve">10</text>
<text x="62.26" y="222.6" font-size="4" font-weight="bold" font-style="normal" fill="#000" xml:space="preserve">1</text>
<text x="86.86" y="277.7" font-size="8.2" font-weight="bold" font-style="normal" fill="#000" textLength="115.13" lengthAdjust="spacingAndGlyphs" xml:space="preserve">Paclitaxel concentration (nM)</text>
<text transform="translate(38.1 135.9) rotate(-90)" x="-70.64" y="0" font-size="8.2" font-weight="bold" font-style="normal" fill="#000" textLength="141.08" lengthAdjust="spacingAndGlyphs">Percentage of replication vs mitosis</text>
<text transform="translate(47.6 135.9) rotate(-90)" x="-42.62" y="0" font-size="8.2" font-weight="bold" font-style="normal" fill="#000" textLength="85.18" lengthAdjust="spacingAndGlyphs">(EdU/pH3 ratio) log10</text>
<line x1="235.6" y1="27.8" x2="245.8" y2="27.8" stroke="#e9b9be" stroke-width="0.8"/>
<path d="M240.7 30L242.9 26.04L238.5 26.04Z" fill="#fff" stroke="#dfa1a8" stroke-width="1"/>
<text x="251.31" y="30.8" font-size="8.7" font-weight="normal" font-style="normal" fill="#111" textLength="27.22" lengthAdjust="spacingAndGlyphs" xml:space="preserve">PDX30</text>
<line x1="235.6" y1="41.16" x2="245.8" y2="41.16" stroke="#e9b9be" stroke-width="0.8"/>
<path d="M240.7 38.96L242.9 41.16L240.7 43.36L238.5 41.16Z" fill="#fff" stroke="#dfa1a8" stroke-width="1"/>
<text x="251.31" y="44.16" font-size="8.7" font-weight="normal" font-style="normal" fill="#111" textLength="27.31" lengthAdjust="spacingAndGlyphs" xml:space="preserve">PDX31</text>
<line x1="235.6" y1="54.52" x2="245.8" y2="54.52" stroke="#e9b9be" stroke-width="0.8"/>
<circle cx="240.7" cy="54.52" r="1.65" fill="#dfa1a8"/>
<text x="251.31" y="57.52" font-size="8.7" font-weight="normal" font-style="normal" fill="#111" textLength="27.26" lengthAdjust="spacingAndGlyphs" xml:space="preserve">PDX38</text>
<line x1="235.6" y1="67.88" x2="245.8" y2="67.88" stroke="#e9b9be" stroke-width="0.8"/>
<line x1="238.5" y1="67.88" x2="242.9" y2="67.88" stroke="#dfa1a8" stroke-width="0.9"/>
<line x1="240.7" y1="65.68" x2="240.7" y2="70.08" stroke="#dfa1a8" stroke-width="0.9"/>
<text x="251.31" y="70.88" font-size="8.7" font-weight="normal" font-style="normal" fill="#111" textLength="27.31" lengthAdjust="spacingAndGlyphs" xml:space="preserve">PDX39</text>
<line x1="235.6" y1="81.24" x2="245.8" y2="81.24" stroke="#e9b9be" stroke-width="0.8"/>
<circle cx="240.7" cy="81.24" r="1.8" fill="#fff" stroke="#dfa1a8" stroke-width="1"/>
<text x="251.31" y="84.24" font-size="8.7" font-weight="normal" font-style="normal" fill="#111" textLength="27.31" lengthAdjust="spacingAndGlyphs" xml:space="preserve">PDX41</text>
<line x1="235.6" y1="94.6" x2="245.8" y2="94.6" stroke="#e9b9be" stroke-width="0.8"/>
<circle cx="240.7" cy="94.6" r="1.9" fill="#dfa1a8" stroke="#dfa1a8" stroke-width="1"/>
<line x1="239" y1="94.6" x2="242.4" y2="94.6" stroke="#fff" stroke-width="0.8"/>
<text x="251.31" y="97.6" font-size="8.7" font-weight="normal" font-style="normal" fill="#111" textLength="27.26" lengthAdjust="spacingAndGlyphs" xml:space="preserve">PDX43</text>
<line x1="235.6" y1="107.96" x2="245.8" y2="107.96" stroke="#e9b9be" stroke-width="0.8"/>
<rect x="238.5" y="105.76" width="4.4" height="4.4" fill="#dfa1a8"/>
<text x="251.31" y="110.96" font-size="8.7" font-weight="normal" font-style="normal" fill="#111" textLength="27.17" lengthAdjust="spacingAndGlyphs" xml:space="preserve">PDX44</text>
<line x1="235.6" y1="121.32" x2="245.8" y2="121.32" stroke="#e9b9be" stroke-width="0.8"/>
<circle cx="240.7" cy="121.32" r="1.8" fill="#fff" stroke="#dfa1a8" stroke-width="1"/>
<text x="251.31" y="124.32" font-size="8.7" font-weight="normal" font-style="normal" fill="#111" textLength="27.26" lengthAdjust="spacingAndGlyphs" xml:space="preserve">PDX46</text>
<line x1="235.6" y1="134.68" x2="245.8" y2="134.68" stroke="#e9b9be" stroke-width="0.8"/>
<circle cx="240.7" cy="134.68" r="1.8" fill="#fff" stroke="#dfa1a8" stroke-width="1"/>
<text x="251.31" y="137.68" font-size="8.7" font-weight="normal" font-style="normal" fill="#111" textLength="27.35" lengthAdjust="spacingAndGlyphs" xml:space="preserve">PDX47</text>
<line x1="235.6" y1="148.04" x2="245.8" y2="148.04" stroke="#e9b9be" stroke-width="0.8"/>
<circle cx="240.7" cy="148.04" r="1.54" fill="#dfa1a8"/>
<text x="251.31" y="151.04" font-size="8.7" font-weight="normal" font-style="normal" fill="#111" textLength="27.26" lengthAdjust="spacingAndGlyphs" xml:space="preserve">PDX48</text>
<line x1="235.6" y1="161.4" x2="245.8" y2="161.4" stroke="#e9b9be" stroke-width="0.8"/>
<line x1="238.5" y1="161.4" x2="242.9" y2="161.4" stroke="#dfa1a8" stroke-width="0.9"/>
<line x1="240.7" y1="159.2" x2="240.7" y2="163.6" stroke="#dfa1a8" stroke-width="0.9"/>
<text x="251.31" y="164.4" font-size="8.7" font-weight="normal" font-style="normal" fill="#111" textLength="27.31" lengthAdjust="spacingAndGlyphs" xml:space="preserve">PDX49</text>
<line x1="235.6" y1="174.76" x2="245.8" y2="174.76" stroke="#e9b9be" stroke-width="0.8"/>
<circle cx="240.7" cy="174.76" r="1.8" fill="#fff" stroke="#dfa1a8" stroke-width="1"/>
<text x="251.31" y="177.76" font-size="8.7" font-weight="normal" font-style="normal" fill="#111" textLength="27.22" lengthAdjust="spacingAndGlyphs" xml:space="preserve">PDX50</text>
<line x1="235.6" y1="188.12" x2="245.8" y2="188.12" stroke="#e9b9be" stroke-width="0.8"/>
<circle cx="240.7" cy="188.12" r="1.9" fill="#dfa1a8" stroke="#dfa1a8" stroke-width="1"/>
<line x1="239" y1="188.12" x2="242.4" y2="188.12" stroke="#fff" stroke-width="0.8"/>
<text x="251.31" y="191.12" font-size="8.7" font-weight="normal" font-style="normal" fill="#111" textLength="27.26" lengthAdjust="spacingAndGlyphs" xml:space="preserve">PDX53</text>
<line x1="235.6" y1="201.48" x2="245.8" y2="201.48" stroke="#e9b9be" stroke-width="0.8"/>
<rect x="238.9" y="199.68" width="3.6" height="3.6" fill="#fff" stroke="#dfa1a8" stroke-width="1"/>
<text x="251.31" y="204.48" font-size="8.7" font-weight="normal" font-style="normal" fill="#111" textLength="27.17" lengthAdjust="spacingAndGlyphs" xml:space="preserve">PDX64</text>
<line x1="235.6" y1="214.84" x2="245.8" y2="214.84" stroke="#e9b9be" stroke-width="0.8"/>
<rect x="238.9" y="213.04" width="3.6" height="3.6" fill="#fff" stroke="#dfa1a8" stroke-width="1"/>
<text x="251.31" y="217.84" font-size="8.7" font-weight="normal" font-style="normal" fill="#111" textLength="27.31" lengthAdjust="spacingAndGlyphs" xml:space="preserve">PDX69</text>
<line x1="235.6" y1="228.2" x2="245.8" y2="228.2" stroke="#e9b9be" stroke-width="0.8"/>
<path d="M240.7 230.62L243.12 226.22L238.28 226.22Z" fill="#dfa1a8"/>
<text x="251.31" y="231.2" font-size="8.7" font-weight="normal" font-style="normal" fill="#111" textLength="27.35" lengthAdjust="spacingAndGlyphs" xml:space="preserve">PDX72</text>
<line x1="284.4" y1="27.8" x2="294.6" y2="27.8" stroke="#7aaedb" stroke-width="0.8"/>
<rect x="287.7" y="26" width="3.6" height="3.6" fill="#fff" stroke="#5f9bd0" stroke-width="1"/>
<text x="299.92" y="30.8" font-size="8.7" font-weight="normal" font-style="normal" fill="#111" textLength="27.06" lengthAdjust="spacingAndGlyphs" xml:space="preserve">PDX28</text>
<line x1="284.4" y1="41.16" x2="294.6" y2="41.16" stroke="#7aaedb" stroke-width="0.8"/>
<path d="M289.5 38.96L291.7 42.92L287.3 42.92Z" fill="#fff" stroke="#5f9bd0" stroke-width="1"/>
<text x="299.92" y="44.16" font-size="8.7" font-weight="normal" font-style="normal" fill="#111" textLength="27.1" lengthAdjust="spacingAndGlyphs" xml:space="preserve">PDX29</text>
<line x1="284.4" y1="54.52" x2="294.6" y2="54.52" stroke="#7aaedb" stroke-width="0.8"/>
<circle cx="289.5" cy="54.52" r="2.2" fill="#5f9bd0"/>
<text x="299.91" y="57.52" font-size="8.7" font-weight="normal" font-style="normal" fill="#111" textLength="27.14" lengthAdjust="spacingAndGlyphs" xml:space="preserve">PDX37</text>
<line x1="284.4" y1="67.88" x2="294.6" y2="67.88" stroke="#7aaedb" stroke-width="0.8"/>
<line x1="287.74" y1="66.12" x2="291.26" y2="69.64" stroke="#5f9bd0" stroke-width="0.9"/>
<line x1="287.74" y1="69.64" x2="291.26" y2="66.12" stroke="#5f9bd0" stroke-width="0.9"/>
<text x="299.92" y="70.88" font-size="8.7" font-weight="normal" font-style="normal" fill="#111" textLength="27.01" lengthAdjust="spacingAndGlyphs" xml:space="preserve">PDX40</text>
<line x1="284.4" y1="81.24" x2="294.6" y2="81.24" stroke="#7aaedb" stroke-width="0.8"/>
<rect x="287.7" y="79.44" width="3.6" height="3.6" fill="#fff" stroke="#5f9bd0" stroke-width="1"/>
<text x="299.91" y="84.24" font-size="8.7" font-weight="normal" font-style="normal" fill="#111" textLength="27.14" lengthAdjust="spacingAndGlyphs" xml:space="preserve">PDX42</text>
<line x1="284.4" y1="94.6" x2="294.6" y2="94.6" stroke="#7aaedb" stroke-width="0.8"/>
<circle cx="289.5" cy="94.6" r="1.9" fill="#5f9bd0" stroke="#5f9bd0" stroke-width="1"/>
<line x1="287.8" y1="94.6" x2="291.2" y2="94.6" stroke="#fff" stroke-width="0.8"/>
<text x="299.92" y="97.6" font-size="8.7" font-weight="normal" font-style="normal" fill="#111" textLength="27.1" lengthAdjust="spacingAndGlyphs" xml:space="preserve">PDX51</text>
<line x1="284.4" y1="107.96" x2="294.6" y2="107.96" stroke="#7aaedb" stroke-width="0.8"/>
<circle cx="289.5" cy="107.96" r="2.2" fill="#5f9bd0"/>
<text x="299.91" y="110.96" font-size="8.7" font-weight="normal" font-style="normal" fill="#111" textLength="27.14" lengthAdjust="spacingAndGlyphs" xml:space="preserve">PDX52</text>
<line x1="284.4" y1="121.32" x2="294.6" y2="121.32" stroke="#7aaedb" stroke-width="0.8"/>
<circle cx="289.5" cy="121.32" r="2.2" fill="#5f9bd0"/>
<text x="299.92" y="124.32" font-size="8.7" font-weight="normal" font-style="normal" fill="#111" textLength="27.1" lengthAdjust="spacingAndGlyphs" xml:space="preserve">PDX59</text>
<line x1="284.4" y1="134.68" x2="294.6" y2="134.68" stroke="#7aaedb" stroke-width="0.8"/>
<rect x="287.3" y="132.48" width="4.4" height="4.4" fill="#5f9bd0"/>
<text x="299.92" y="137.68" font-size="8.7" font-weight="normal" font-style="normal" fill="#111" textLength="27.1" lengthAdjust="spacingAndGlyphs" xml:space="preserve">PDX61</text>
<line x1="284.4" y1="148.04" x2="294.6" y2="148.04" stroke="#7aaedb" stroke-width="0.8"/>
<rect x="287.3" y="145.84" width="4.4" height="4.4" fill="#5f9bd0"/>
<text x="299.91" y="151.04" font-size="8.7" font-weight="normal" font-style="normal" fill="#111" textLength="27.14" lengthAdjust="spacingAndGlyphs" xml:space="preserve">PDX62</text>
<line x1="284.4" y1="161.4" x2="294.6" y2="161.4" stroke="#7aaedb" stroke-width="0.8"/>
<rect x="287.3" y="159.2" width="4.4" height="4.4" fill="#5f9bd0"/>
<text x="299.92" y="164.4" font-size="8.7" font-weight="normal" font-style="normal" fill="#111" textLength="27.01" lengthAdjust="spacingAndGlyphs" xml:space="preserve">PDX70</text>
<line x1="284.4" y1="174.76" x2="294.6" y2="174.76" stroke="#7aaedb" stroke-width="0.8"/>
<path d="M289.5 172.34L291.92 176.74L287.08 176.74Z" fill="#5f9bd0"/>
<text x="299.92" y="177.76" font-size="8.7" font-weight="normal" font-style="normal" fill="#111" textLength="27.1" lengthAdjust="spacingAndGlyphs" xml:space="preserve">PDX71</text>
<line x1="284.4" y1="188.12" x2="294.6" y2="188.12" stroke="#7aaedb" stroke-width="0.8"/>
<circle cx="289.5" cy="188.12" r="1.54" fill="#5f9bd0"/>
<text x="299.92" y="191.12" font-size="8.7" font-weight="normal" font-style="normal" fill="#111" textLength="27.06" lengthAdjust="spacingAndGlyphs" xml:space="preserve">PDX75</text>
<line x1="284.4" y1="201.48" x2="294.6" y2="201.48" stroke="#7aaedb" stroke-width="0.8"/>
<circle cx="289.5" cy="201.48" r="2.2" fill="#5f9bd0"/>
<text x="299.92" y="204.48" font-size="8.7" font-weight="normal" font-style="normal" fill="#111" textLength="27.06" lengthAdjust="spacingAndGlyphs" xml:space="preserve">PDX76</text>
<polyline points="398.6,117 423.57,164.4 448.54,149.3 473.51,164.8 498.48,104.7 523.45,107.6" fill="none" stroke="#e9b9be" stroke-width="0.75"/>
<polyline points="398.6,117 423.57,174 448.54,163 473.51,171.2 498.48,151.4 523.45,124.5" fill="none" stroke="#e9b9be" stroke-width="0.75"/>
<polyline points="398.6,117 423.57,177 448.54,170 473.51,181.1 498.48,163 523.45,139.7" fill="none" stroke="#e9b9be" stroke-width="0.75"/>
<polyline points="398.6,117 423.57,181 448.54,175 473.51,194.5 498.48,177 523.45,150.2" fill="none" stroke="#e9b9be" stroke-width="0.75"/>
<polyline points="398.6,117 423.57,185 448.54,185.2 473.51,195.7 498.48,180.5 523.45,168.9" fill="none" stroke="#e9b9be" stroke-width="0.75"/>
<polyline points="398.6,117 423.57,190.7 448.54,187 473.51,203.9 498.48,203.3 523.45,189.3" fill="none" stroke="#e9b9be" stroke-width="0.75"/>
<polyline points="398.6,117 423.57,194 448.54,189.6 473.51,210.9 498.48,220.8 523.45,202.5" fill="none" stroke="#e9b9be" stroke-width="0.75"/>
<polyline points="398.6,117 423.57,197.2 448.54,197.2 473.51,220.8 498.48,229.6 523.45,233" fill="none" stroke="#e9b9be" stroke-width="0.75"/>
<polyline points="398.6,117 423.57,200.5 448.54,200 473.51,226.9 498.48,177 523.45,189.3" fill="none" stroke="#e9b9be" stroke-width="0.75"/>
<polyline points="398.6,117 423.57,204 448.54,202.7 473.51,248 498.48,151.4 523.45,139.7" fill="none" stroke="#e9b9be" stroke-width="0.75"/>
<polyline points="398.6,117 423.57,207 448.54,208.2 473.51,181.1 498.48,163 523.45,168.9" fill="none" stroke="#e9b9be" stroke-width="0.75"/>
<polyline points="398.6,117 423.57,210 448.54,211 473.51,194.5 498.48,203.3 523.45,150.2" fill="none" stroke="#e9b9be" stroke-width="0.75"/>
<polyline points="398.6,117 423.57,212.6 448.54,214.7 473.51,203.9 498.48,180.5 523.45,124.5" fill="none" stroke="#e9b9be" stroke-width="0.75"/>
<polyline points="398.6,117 423.57,222.4 448.54,200 473.51,210.9 498.48,220.8 523.45,202.5" fill="none" stroke="#e9b9be" stroke-width="0.75"/>
<polyline points="398.6,117 423.57,185 448.54,175 473.51,164.8 498.48,151.4 523.45,107.6" fill="none" stroke="#e9b9be" stroke-width="0.75"/>
<polyline points="398.6,117 423.57,94 448.54,94 473.51,141 498.48,81.4 523.45,43.1" fill="none" stroke="#7aaedb" stroke-width="0.8"/>
<polyline points="398.6,117 423.57,107 448.54,122 473.51,54.5 498.48,106 523.45,111" fill="none" stroke="#7aaedb" stroke-width="0.8"/>
<polyline points="398.6,117 423.57,109 448.54,108.2 473.51,118.7 498.48,146.7 523.45,82" fill="none" stroke="#7aaedb" stroke-width="0.8"/>
<polyline points="398.6,117 423.57,112 448.54,115.3 473.51,110.5 498.48,118.1 523.45,128.6" fill="none" stroke="#7aaedb" stroke-width="0.8"/>
<polyline points="398.6,117 423.57,121.9 448.54,132.8 473.51,128 498.48,128.6 523.45,134" fill="none" stroke="#7aaedb" stroke-width="0.8"/>
<polyline points="398.6,117 423.57,131.8 448.54,135 473.51,132.7 498.48,104.7 523.45,136.2" fill="none" stroke="#7aaedb" stroke-width="0.8"/>
<polyline points="398.6,117 423.57,134 448.54,138 473.51,139.7 498.48,153.7 523.45,142.6" fill="none" stroke="#7aaedb" stroke-width="0.8"/>
<polyline points="398.6,117 423.57,137 448.54,141.6 473.51,146 498.48,158.4 523.45,153.7" fill="none" stroke="#7aaedb" stroke-width="0.8"/>
<polyline points="398.6,117 423.57,140 448.54,152.6 473.51,149 498.48,167.2 523.45,160.7" fill="none" stroke="#7aaedb" stroke-width="0.8"/>
<polyline points="398.6,117 423.57,143.8 448.54,155 473.51,160.1 498.48,182.8 523.45,171.2" fill="none" stroke="#7aaedb" stroke-width="0.8"/>
<polyline points="398.6,117 423.57,152.6 448.54,157 473.51,174.7 498.48,191.6 523.45,174" fill="none" stroke="#7aaedb" stroke-width="0.8"/>
<polyline points="398.6,117 423.57,155 448.54,161.9 473.51,185.2 498.48,191.6 523.45,227.2" fill="none" stroke="#7aaedb" stroke-width="0.8"/>
<polyline points="398.6,117 423.57,157 448.54,177.5 473.51,244.7 498.48,199.2 523.45,181.7" fill="none" stroke="#7aaedb" stroke-width="0.8"/>
<polyline points="398.6,117 423.57,128 448.54,125 473.51,136 498.48,107 523.45,185.2" fill="none" stroke="#7aaedb" stroke-width="0.8"/>
<polyline points="398.6,117 423.57,146 448.54,150 473.51,128 498.48,118 523.45,177" fill="none" stroke="#7aaedb" stroke-width="0.8"/>
<polyline points="398.6,117 423.57,111 448.54,108 473.51,120 498.48,128.6 523.45,210.3" fill="none" stroke="#7aaedb" stroke-width="0.8"/>
<path d="M423.57 161.43L426.54 166.83L420.6 166.83Z" fill="#dfa1a8"/>
<path d="M448.54 146.33L451.51 151.73L445.57 151.73Z" fill="#dfa1a8"/>
<path d="M473.51 161.83L476.48 167.23L470.54 167.23Z" fill="#dfa1a8"/>
<path d="M498.48 101.73L501.45 107.13L495.51 107.13Z" fill="#dfa1a8"/>
<path d="M523.45 104.63L526.42 110.03L520.48 110.03Z" fill="#dfa1a8"/>
<circle cx="423.57" cy="174" r="1.89" fill="#dfa1a8"/>
<circle cx="448.54" cy="163" r="1.89" fill="#dfa1a8"/>
<circle cx="473.51" cy="171.2" r="1.89" fill="#dfa1a8"/>
<circle cx="498.48" cy="151.4" r="1.89" fill="#dfa1a8"/>
<circle cx="523.45" cy="124.5" r="1.89" fill="#dfa1a8"/>
<path d="M423.57 174.3L426.27 179.16L420.87 179.16Z" fill="#fff" stroke="#dfa1a8" stroke-width="1"/>
<path d="M448.54 167.3L451.24 172.16L445.84 172.16Z" fill="#fff" stroke="#dfa1a8" stroke-width="1"/>
<path d="M473.51 178.4L476.21 183.26L470.81 183.26Z" fill="#fff" stroke="#dfa1a8" stroke-width="1"/>
<path d="M498.48 160.3L501.18 165.16L495.78 165.16Z" fill="#fff" stroke="#dfa1a8" stroke-width="1"/>
<path d="M523.45 137L526.15 141.86L520.75 141.86Z" fill="#fff" stroke="#dfa1a8" stroke-width="1"/>
<circle cx="423.57" cy="181" r="2.03" fill="#dfa1a8"/>
<circle cx="448.54" cy="175" r="2.03" fill="#dfa1a8"/>
<circle cx="473.51" cy="194.5" r="2.03" fill="#dfa1a8"/>
<circle cx="498.48" cy="177" r="2.03" fill="#dfa1a8"/>
<circle cx="523.45" cy="150.2" r="2.03" fill="#dfa1a8"/>
<circle cx="423.57" cy="185" r="2.7" fill="#dfa1a8"/>
<circle cx="448.54" cy="185.2" r="2.7" fill="#dfa1a8"/>
<circle cx="473.51" cy="195.7" r="2.7" fill="#dfa1a8"/>
<circle cx="498.48" cy="180.5" r="2.7" fill="#dfa1a8"/>
<circle cx="523.45" cy="168.9" r="2.7" fill="#dfa1a8"/>
<line x1="421.41" y1="188.54" x2="425.73" y2="192.86" stroke="#dfa1a8" stroke-width="0.9"/>
<line x1="421.41" y1="192.86" x2="425.73" y2="188.54" stroke="#dfa1a8" stroke-width="0.9"/>
<line x1="446.38" y1="184.84" x2="450.7" y2="189.16" stroke="#dfa1a8" stroke-width="0.9"/>
<line x1="446.38" y1="189.16" x2="450.7" y2="184.84" stroke="#dfa1a8" stroke-width="0.9"/>
<line x1="471.35" y1="201.74" x2="475.67" y2="206.06" stroke="#dfa1a8" stroke-width="0.9"/>
<line x1="471.35" y1="206.06" x2="475.67" y2="201.74" stroke="#dfa1a8" stroke-width="0.9"/>
<line x1="496.32" y1="201.14" x2="500.64" y2="205.46" stroke="#dfa1a8" stroke-width="0.9"/>
<line x1="496.32" y1="205.46" x2="500.64" y2="201.14" stroke="#dfa1a8" stroke-width="0.9"/>
<line x1="521.29" y1="187.14" x2="525.61" y2="191.46" stroke="#dfa1a8" stroke-width="0.9"/>
<line x1="521.29" y1="191.46" x2="525.61" y2="187.14" stroke="#dfa1a8" stroke-width="0.9"/>
<rect x="421.27" y="191.7" width="4.6" height="4.6" fill="#fff" stroke="#dfa1a8" stroke-width="1"/>
<rect x="446.24" y="187.3" width="4.6" height="4.6" fill="#fff" stroke="#dfa1a8" stroke-width="1"/>
<rect x="471.21" y="208.6" width="4.6" height="4.6" fill="#fff" stroke="#dfa1a8" stroke-width="1"/>
<rect x="496.18" y="218.5" width="4.6" height="4.6" fill="#fff" stroke="#dfa1a8" stroke-width="1"/>
<rect x="521.15" y="200.2" width="4.6" height="4.6" fill="#fff" stroke="#dfa1a8" stroke-width="1"/>
<circle cx="423.57" cy="197.2" r="2.7" fill="#dfa1a8"/>
<circle cx="448.54" cy="197.2" r="2.7" fill="#dfa1a8"/>
<circle cx="473.51" cy="220.8" r="2.7" fill="#dfa1a8"/>
<circle cx="498.48" cy="229.6" r="2.7" fill="#dfa1a8"/>
<circle cx="523.45" cy="233" r="2.7" fill="#dfa1a8"/>
<line x1="420.87" y1="200.5" x2="426.27" y2="200.5" stroke="#dfa1a8" stroke-width="0.9"/>
<line x1="423.57" y1="197.8" x2="423.57" y2="203.2" stroke="#dfa1a8" stroke-width="0.9"/>
<line x1="445.84" y1="200" x2="451.24" y2="200" stroke="#dfa1a8" stroke-width="0.9"/>
<line x1="448.54" y1="197.3" x2="448.54" y2="202.7" stroke="#dfa1a8" stroke-width="0.9"/>
<line x1="470.81" y1="226.9" x2="476.21" y2="226.9" stroke="#dfa1a8" stroke-width="0.9"/>
<line x1="473.51" y1="224.2" x2="473.51" y2="229.6" stroke="#dfa1a8" stroke-width="0.9"/>
<line x1="495.78" y1="177" x2="501.18" y2="177" stroke="#dfa1a8" stroke-width="0.9"/>
<line x1="498.48" y1="174.3" x2="498.48" y2="179.7" stroke="#dfa1a8" stroke-width="0.9"/>
<line x1="520.75" y1="189.3" x2="526.15" y2="189.3" stroke="#dfa1a8" stroke-width="0.9"/>
<line x1="523.45" y1="186.6" x2="523.45" y2="192" stroke="#dfa1a8" stroke-width="0.9"/>
<circle cx="423.57" cy="204" r="2.3" fill="#fff" stroke="#dfa1a8" stroke-width="1"/>
<circle cx="448.54" cy="202.7" r="2.3" fill="#fff" stroke="#dfa1a8" stroke-width="1"/>
<circle cx="473.51" cy="248" r="2.3" fill="#fff" stroke="#dfa1a8" stroke-width="1"/>
<circle cx="498.48" cy="151.4" r="2.3" fill="#fff" stroke="#dfa1a8" stroke-width="1"/>
<circle cx="523.45" cy="139.7" r="2.3" fill="#fff" stroke="#dfa1a8" stroke-width="1"/>
<circle cx="423.57" cy="207" r="2.4" fill="#dfa1a8" stroke="#dfa1a8" stroke-width="1"/>
<line x1="421.37" y1="207" x2="425.77" y2="207" stroke="#fff" stroke-width="0.8"/>
<circle cx="448.54" cy="208.2" r="2.4" fill="#dfa1a8" stroke="#dfa1a8" stroke-width="1"/>
<line x1="446.34" y1="208.2" x2="450.74" y2="208.2" stroke="#fff" stroke-width="0.8"/>
<circle cx="473.51" cy="181.1" r="2.4" fill="#dfa1a8" stroke="#dfa1a8" stroke-width="1"/>
<line x1="471.31" y1="181.1" x2="475.71" y2="181.1" stroke="#fff" stroke-width="0.8"/>
<circle cx="498.48" cy="163" r="2.4" fill="#dfa1a8" stroke="#dfa1a8" stroke-width="1"/>
<line x1="496.28" y1="163" x2="500.68" y2="163" stroke="#fff" stroke-width="0.8"/>
<circle cx="523.45" cy="168.9" r="2.4" fill="#dfa1a8" stroke="#dfa1a8" stroke-width="1"/>
<line x1="521.25" y1="168.9" x2="525.65" y2="168.9" stroke="#fff" stroke-width="0.8"/>
<circle cx="423.57" cy="210" r="2.4" fill="#dfa1a8" stroke="#dfa1a8" stroke-width="1"/>
<line x1="421.37" y1="210" x2="425.77" y2="210" stroke="#fff" stroke-width="0.8"/>
<circle cx="448.54" cy="211" r="2.4" fill="#dfa1a8" stroke="#dfa1a8" stroke-width="1"/>
<line x1="446.34" y1="211" x2="450.74" y2="211" stroke="#fff" stroke-width="0.8"/>
<circle cx="473.51" cy="194.5" r="2.4" fill="#dfa1a8" stroke="#dfa1a8" stroke-width="1"/>
<line x1="471.31" y1="194.5" x2="475.71" y2="194.5" stroke="#fff" stroke-width="0.8"/>
<circle cx="498.48" cy="203.3" r="2.4" fill="#dfa1a8" stroke="#dfa1a8" stroke-width="1"/>
<line x1="496.28" y1="203.3" x2="500.68" y2="203.3" stroke="#fff" stroke-width="0.8"/>
<circle cx="523.45" cy="150.2" r="2.4" fill="#dfa1a8" stroke="#dfa1a8" stroke-width="1"/>
<line x1="521.25" y1="150.2" x2="525.65" y2="150.2" stroke="#fff" stroke-width="0.8"/>
<circle cx="423.57" cy="212.6" r="2.4" fill="#dfa1a8" stroke="#dfa1a8" stroke-width="1"/>
<line x1="421.37" y1="212.6" x2="425.77" y2="212.6" stroke="#fff" stroke-width="0.8"/>
<circle cx="448.54" cy="214.7" r="2.4" fill="#dfa1a8" stroke="#dfa1a8" stroke-width="1"/>
<line x1="446.34" y1="214.7" x2="450.74" y2="214.7" stroke="#fff" stroke-width="0.8"/>
<circle cx="473.51" cy="203.9" r="2.4" fill="#dfa1a8" stroke="#dfa1a8" stroke-width="1"/>
<line x1="471.31" y1="203.9" x2="475.71" y2="203.9" stroke="#fff" stroke-width="0.8"/>
<circle cx="498.48" cy="180.5" r="2.4" fill="#dfa1a8" stroke="#dfa1a8" stroke-width="1"/>
<line x1="496.28" y1="180.5" x2="500.68" y2="180.5" stroke="#fff" stroke-width="0.8"/>
<circle cx="523.45" cy="124.5" r="2.4" fill="#dfa1a8" stroke="#dfa1a8" stroke-width="1"/>
<line x1="521.25" y1="124.5" x2="525.65" y2="124.5" stroke="#fff" stroke-width="0.8"/>
<circle cx="423.57" cy="222.4" r="2.3" fill="#fff" stroke="#dfa1a8" stroke-width="1"/>
<circle cx="448.54" cy="200" r="2.3" fill="#fff" stroke="#dfa1a8" stroke-width="1"/>
<circle cx="473.51" cy="210.9" r="2.3" fill="#fff" stroke="#dfa1a8" stroke-width="1"/>
<circle cx="498.48" cy="220.8" r="2.3" fill="#fff" stroke="#dfa1a8" stroke-width="1"/>
<circle cx="523.45" cy="202.5" r="2.3" fill="#fff" stroke="#dfa1a8" stroke-width="1"/>
<line x1="420.87" y1="185" x2="426.27" y2="185" stroke="#dfa1a8" stroke-width="0.9"/>
<line x1="423.57" y1="182.3" x2="423.57" y2="187.7" stroke="#dfa1a8" stroke-width="0.9"/>
<line x1="445.84" y1="175" x2="451.24" y2="175" stroke="#dfa1a8" stroke-width="0.9"/>
<line x1="448.54" y1="172.3" x2="448.54" y2="177.7" stroke="#dfa1a8" stroke-width="0.9"/>
<line x1="470.81" y1="164.8" x2="476.21" y2="164.8" stroke="#dfa1a8" stroke-width="0.9"/>
<line x1="473.51" y1="162.1" x2="473.51" y2="167.5" stroke="#dfa1a8" stroke-width="0.9"/>
<line x1="495.78" y1="151.4" x2="501.18" y2="151.4" stroke="#dfa1a8" stroke-width="0.9"/>
<line x1="498.48" y1="148.7" x2="498.48" y2="154.1" stroke="#dfa1a8" stroke-width="0.9"/>
<line x1="520.75" y1="107.6" x2="526.15" y2="107.6" stroke="#dfa1a8" stroke-width="0.9"/>
<line x1="523.45" y1="104.9" x2="523.45" y2="110.3" stroke="#dfa1a8" stroke-width="0.9"/>
<rect x="421.27" y="91.7" width="4.6" height="4.6" fill="#fff" stroke="#5f9bd0" stroke-width="1"/>
<rect x="446.24" y="91.7" width="4.6" height="4.6" fill="#fff" stroke="#5f9bd0" stroke-width="1"/>
<rect x="471.21" y="138.7" width="4.6" height="4.6" fill="#fff" stroke="#5f9bd0" stroke-width="1"/>
<rect x="496.18" y="79.1" width="4.6" height="4.6" fill="#fff" stroke="#5f9bd0" stroke-width="1"/>
<rect x="521.15" y="40.8" width="4.6" height="4.6" fill="#fff" stroke="#5f9bd0" stroke-width="1"/>
<rect x="421.27" y="104.7" width="4.6" height="4.6" fill="#fff" stroke="#5f9bd0" stroke-width="1"/>
<rect x="446.24" y="119.7" width="4.6" height="4.6" fill="#fff" stroke="#5f9bd0" stroke-width="1"/>
<rect x="471.21" y="52.2" width="4.6" height="4.6" fill="#fff" stroke="#5f9bd0" stroke-width="1"/>
<rect x="496.18" y="103.7" width="4.6" height="4.6" fill="#fff" stroke="#5f9bd0" stroke-width="1"/>
<rect x="521.15" y="108.7" width="4.6" height="4.6" fill="#fff" stroke="#5f9bd0" stroke-width="1"/>
<rect x="420.87" y="106.3" width="5.4" height="5.4" fill="#5f9bd0"/>
<rect x="445.84" y="105.5" width="5.4" height="5.4" fill="#5f9bd0"/>
<rect x="470.81" y="116" width="5.4" height="5.4" fill="#5f9bd0"/>
<rect x="495.78" y="144" width="5.4" height="5.4" fill="#5f9bd0"/>
<rect x="520.75" y="79.3" width="5.4" height="5.4" fill="#5f9bd0"/>
<circle cx="423.57" cy="112" r="2.3" fill="#fff" stroke="#5f9bd0" stroke-width="1"/>
<circle cx="448.54" cy="115.3" r="2.3" fill="#fff" stroke="#5f9bd0" stroke-width="1"/>
<circle cx="473.51" cy="110.5" r="2.3" fill="#fff" stroke="#5f9bd0" stroke-width="1"/>
<circle cx="498.48" cy="118.1" r="2.3" fill="#fff" stroke="#5f9bd0" stroke-width="1"/>
<circle cx="523.45" cy="128.6" r="2.3" fill="#fff" stroke="#5f9bd0" stroke-width="1"/>
<circle cx="423.57" cy="121.9" r="2.7" fill="#5f9bd0"/>
<circle cx="448.54" cy="132.8" r="2.7" fill="#5f9bd0"/>
<circle cx="473.51" cy="128" r="2.7" fill="#5f9bd0"/>
<circle cx="498.48" cy="128.6" r="2.7" fill="#5f9bd0"/>
<circle cx="523.45" cy="134" r="2.7" fill="#5f9bd0"/>
<rect x="420.87" y="129.1" width="5.4" height="5.4" fill="#5f9bd0"/>
<rect x="445.84" y="132.3" width="5.4" height="5.4" fill="#5f9bd0"/>
<rect x="470.81" y="130" width="5.4" height="5.4" fill="#5f9bd0"/>
<rect x="495.78" y="102" width="5.4" height="5.4" fill="#5f9bd0"/>
<rect x="520.75" y="133.5" width="5.4" height="5.4" fill="#5f9bd0"/>
<path d="M423.57 136.7L426.27 131.84L420.87 131.84Z" fill="#fff" stroke="#5f9bd0" stroke-width="1"/>
<path d="M448.54 140.7L451.24 135.84L445.84 135.84Z" fill="#fff" stroke="#5f9bd0" stroke-width="1"/>
<path d="M473.51 142.4L476.21 137.54L470.81 137.54Z" fill="#fff" stroke="#5f9bd0" stroke-width="1"/>
<path d="M498.48 156.4L501.18 151.54L495.78 151.54Z" fill="#fff" stroke="#5f9bd0" stroke-width="1"/>
<path d="M523.45 145.3L526.15 140.44L520.75 140.44Z" fill="#fff" stroke="#5f9bd0" stroke-width="1"/>
<path d="M423.57 134.3L426.27 137L423.57 139.7L420.87 137Z" fill="#fff" stroke="#5f9bd0" stroke-width="1"/>
<path d="M448.54 138.9L451.24 141.6L448.54 144.3L445.84 141.6Z" fill="#fff" stroke="#5f9bd0" stroke-width="1"/>
<path d="M473.51 143.3L476.21 146L473.51 148.7L470.81 146Z" fill="#fff" stroke="#5f9bd0" stroke-width="1"/>
<path d="M498.48 155.7L501.18 158.4L498.48 161.1L495.78 158.4Z" fill="#fff" stroke="#5f9bd0" stroke-width="1"/>
<path d="M523.45 151L526.15 153.7L523.45 156.4L520.75 153.7Z" fill="#fff" stroke="#5f9bd0" stroke-width="1"/>
<circle cx="423.57" cy="140" r="1.89" fill="#5f9bd0"/>
<circle cx="448.54" cy="152.6" r="1.89" fill="#5f9bd0"/>
<circle cx="473.51" cy="149" r="1.89" fill="#5f9bd0"/>
<circle cx="498.48" cy="167.2" r="1.89" fill="#5f9bd0"/>
<circle cx="523.45" cy="160.7" r="1.89" fill="#5f9bd0"/>
<circle cx="423.57" cy="143.8" r="2.3" fill="#fff" stroke="#5f9bd0" stroke-width="1"/>
<circle cx="448.54" cy="155" r="2.3" fill="#fff" stroke="#5f9bd0" stroke-width="1"/>
<circle cx="473.51" cy="160.1" r="2.3" fill="#fff" stroke="#5f9bd0" stroke-width="1"/>
<circle cx="498.48" cy="182.8" r="2.3" fill="#fff" stroke="#5f9bd0" stroke-width="1"/>
<circle cx="523.45" cy="171.2" r="2.3" fill="#fff" stroke="#5f9bd0" stroke-width="1"/>
<circle cx="423.57" cy="152.6" r="2.4" fill="#5f9bd0" stroke="#5f9bd0" stroke-width="1"/>
<line x1="421.37" y1="152.6" x2="425.77" y2="152.6" stroke="#fff" stroke-width="0.8"/>
<circle cx="448.54" cy="157" r="2.4" fill="#5f9bd0" stroke="#5f9bd0" stroke-width="1"/>
<line x1="446.34" y1="157" x2="450.74" y2="157" stroke="#fff" stroke-width="0.8"/>
<circle cx="473.51" cy="174.7" r="2.4" fill="#5f9bd0" stroke="#5f9bd0" stroke-width="1"/>
<line x1="471.31" y1="174.7" x2="475.71" y2="174.7" stroke="#fff" stroke-width="0.8"/>
<circle cx="498.48" cy="191.6" r="2.4" fill="#5f9bd0" stroke="#5f9bd0" stroke-width="1"/>
<line x1="496.28" y1="191.6" x2="500.68" y2="191.6" stroke="#fff" stroke-width="0.8"/>
<circle cx="523.45" cy="174" r="2.4" fill="#5f9bd0" stroke="#5f9bd0" stroke-width="1"/>
<line x1="521.25" y1="174" x2="525.65" y2="174" stroke="#fff" stroke-width="0.8"/>
<path d="M423.57 152.3L426.27 155L423.57 157.7L420.87 155Z" fill="#fff" stroke="#5f9bd0" stroke-width="1"/>
<path d="M448.54 159.2L451.24 161.9L448.54 164.6L445.84 161.9Z" fill="#fff" stroke="#5f9bd0" stroke-width="1"/>
<path d="M473.51 182.5L476.21 185.2L473.51 187.9L470.81 185.2Z" fill="#fff" stroke="#5f9bd0" stroke-width="1"/>
<path d="M498.48 188.9L501.18 191.6L498.48 194.3L495.78 191.6Z" fill="#fff" stroke="#5f9bd0" stroke-width="1"/>
<path d="M523.45 224.5L526.15 227.2L523.45 229.9L520.75 227.2Z" fill="#fff" stroke="#5f9bd0" stroke-width="1"/>
<rect x="420.87" y="154.3" width="5.4" height="5.4" fill="#5f9bd0"/>
<rect x="445.84" y="174.8" width="5.4" height="5.4" fill="#5f9bd0"/>
<rect x="470.81" y="242" width="5.4" height="5.4" fill="#5f9bd0"/>
<rect x="495.78" y="196.5" width="5.4" height="5.4" fill="#5f9bd0"/>
<rect x="520.75" y="179" width="5.4" height="5.4" fill="#5f9bd0"/>
<circle cx="423.57" cy="128" r="2.4" fill="#5f9bd0" stroke="#5f9bd0" stroke-width="1"/>
<line x1="421.37" y1="128" x2="425.77" y2="128" stroke="#fff" stroke-width="0.8"/>
<circle cx="448.54" cy="125" r="2.4" fill="#5f9bd0" stroke="#5f9bd0" stroke-width="1"/>
<line x1="446.34" y1="125" x2="450.74" y2="125" stroke="#fff" stroke-width="0.8"/>
<circle cx="473.51" cy="136" r="2.4" fill="#5f9bd0" stroke="#5f9bd0" stroke-width="1"/>
<line x1="471.31" y1="136" x2="475.71" y2="136" stroke="#fff" stroke-width="0.8"/>
<circle cx="498.48" cy="107" r="2.4" fill="#5f9bd0" stroke="#5f9bd0" stroke-width="1"/>
<line x1="496.28" y1="107" x2="500.68" y2="107" stroke="#fff" stroke-width="0.8"/>
<circle cx="523.45" cy="185.2" r="2.4" fill="#5f9bd0" stroke="#5f9bd0" stroke-width="1"/>
<line x1="521.25" y1="185.2" x2="525.65" y2="185.2" stroke="#fff" stroke-width="0.8"/>
<rect x="420.87" y="143.3" width="5.4" height="5.4" fill="#5f9bd0"/>
<rect x="445.84" y="147.3" width="5.4" height="5.4" fill="#5f9bd0"/>
<rect x="470.81" y="125.3" width="5.4" height="5.4" fill="#5f9bd0"/>
<rect x="495.78" y="115.3" width="5.4" height="5.4" fill="#5f9bd0"/>
<rect x="520.75" y="174.3" width="5.4" height="5.4" fill="#5f9bd0"/>
<circle cx="423.57" cy="111" r="2.3" fill="#fff" stroke="#5f9bd0" stroke-width="1"/>
<circle cx="448.54" cy="108" r="2.3" fill="#fff" stroke="#5f9bd0" stroke-width="1"/>
<circle cx="473.51" cy="120" r="2.3" fill="#fff" stroke="#5f9bd0" stroke-width="1"/>
<circle cx="498.48" cy="128.6" r="2.3" fill="#fff" stroke="#5f9bd0" stroke-width="1"/>
<circle cx="523.45" cy="210.3" r="2.3" fill="#fff" stroke="#5f9bd0" stroke-width="1"/>
<rect x="396" y="114.4" width="5.2" height="5.2" fill="#5f9bd0"/>
<line x1="386.2" y1="155.8" x2="538.4" y2="155.8" stroke="#d42a2a" stroke-width="1.5"/>
<path d="M413.8 270.4V57.2H431.8V270.4Z" fill="none" stroke="#d42a2a" stroke-width="1.45" stroke-dasharray="3.4 2.1"/>
<line x1="386.2" y1="8.4" x2="386.2" y2="257.7" stroke="#000" stroke-width="1.4"/>
<line x1="382.1" y1="9" x2="386.7" y2="9" stroke="#000" stroke-width="1.2"/>
<line x1="382.1" y1="117" x2="386.7" y2="117" stroke="#000" stroke-width="1.2"/>
<line x1="382.1" y1="225" x2="386.7" y2="225" stroke="#000" stroke-width="1.2"/>
<line x1="383.7" y1="84.49" x2="386.2" y2="84.49" stroke="#000" stroke-width="1"/>
<line x1="383.7" y1="65.47" x2="386.2" y2="65.47" stroke="#000" stroke-width="1"/>
<line x1="383.7" y1="51.98" x2="386.2" y2="51.98" stroke="#000" stroke-width="1"/>
<line x1="383.7" y1="41.51" x2="386.2" y2="41.51" stroke="#000" stroke-width="1"/>
<line x1="383.7" y1="32.96" x2="386.2" y2="32.96" stroke="#000" stroke-width="1"/>
<line x1="383.7" y1="25.73" x2="386.2" y2="25.73" stroke="#000" stroke-width="1"/>
<line x1="383.7" y1="19.47" x2="386.2" y2="19.47" stroke="#000" stroke-width="1"/>
<line x1="383.7" y1="13.94" x2="386.2" y2="13.94" stroke="#000" stroke-width="1"/>
<line x1="383.7" y1="192.49" x2="386.2" y2="192.49" stroke="#000" stroke-width="1"/>
<line x1="383.7" y1="173.47" x2="386.2" y2="173.47" stroke="#000" stroke-width="1"/>
<line x1="383.7" y1="159.98" x2="386.2" y2="159.98" stroke="#000" stroke-width="1"/>
<line x1="383.7" y1="149.51" x2="386.2" y2="149.51" stroke="#000" stroke-width="1"/>
<line x1="383.7" y1="140.96" x2="386.2" y2="140.96" stroke="#000" stroke-width="1"/>
<line x1="383.7" y1="133.73" x2="386.2" y2="133.73" stroke="#000" stroke-width="1"/>
<line x1="383.7" y1="127.47" x2="386.2" y2="127.47" stroke="#000" stroke-width="1"/>
<line x1="383.7" y1="121.94" x2="386.2" y2="121.94" stroke="#000" stroke-width="1"/>
<line x1="383.7" y1="248.96" x2="386.2" y2="248.96" stroke="#000" stroke-width="1"/>
<line x1="383.7" y1="241.73" x2="386.2" y2="241.73" stroke="#000" stroke-width="1"/>
<line x1="383.7" y1="235.47" x2="386.2" y2="235.47" stroke="#000" stroke-width="1"/>
<line x1="383.7" y1="229.94" x2="386.2" y2="229.94" stroke="#000" stroke-width="1"/>
<line x1="384.7" y1="257.1" x2="536.6" y2="257.1" stroke="#000" stroke-width="1.5"/>
<line x1="398.6" y1="257.1" x2="398.6" y2="260.5" stroke="#000" stroke-width="1.2"/>
<line x1="423.57" y1="257.1" x2="423.57" y2="260.5" stroke="#000" stroke-width="1.2"/>
<line x1="448.54" y1="257.1" x2="448.54" y2="260.5" stroke="#000" stroke-width="1.2"/>
<line x1="473.51" y1="257.1" x2="473.51" y2="260.5" stroke="#000" stroke-width="1.2"/>
<line x1="498.48" y1="257.1" x2="498.48" y2="260.5" stroke="#000" stroke-width="1.2"/>
<line x1="523.45" y1="257.1" x2="523.45" y2="260.5" stroke="#000" stroke-width="1.2"/>
<text x="391.5" y="268.2" font-size="7.1" font-weight="bold" font-style="normal" fill="#000" xml:space="preserve">UT</text>
<text x="421.48" y="268.2" font-size="7.1" font-weight="bold" font-style="normal" fill="#000" xml:space="preserve">1</text>
<text x="446.61" y="268.2" font-size="7.1" font-weight="bold" font-style="normal" fill="#000" xml:space="preserve">3</text>
<text x="469.5" y="268.2" font-size="7.1" font-weight="bold" font-style="normal" fill="#000" xml:space="preserve">10</text>
<text x="494.5" y="268.2" font-size="7.1" font-weight="bold" font-style="normal" fill="#000" xml:space="preserve">25</text>
<text x="517.47" y="268.2" font-size="7.1" font-weight="bold" font-style="normal" fill="#000" xml:space="preserve">100</text>
<text x="370.57" y="11.4" font-size="7.1" font-weight="bold" font-style="normal" fill="#000" textLength="7.93" lengthAdjust="spacingAndGlyphs" xml:space="preserve">10</text>
<text x="379.5" y="9" font-size="4" font-weight="bold" font-style="normal" fill="#000" xml:space="preserve">3</text>
<text x="370.57" y="119.4" font-size="7.1" font-weight="bold" font-style="normal" fill="#000" textLength="7.93" lengthAdjust="spacingAndGlyphs" xml:space="preserve">10</text>
<text x="379.46" y="117" font-size="4" font-weight="bold" font-style="normal" fill="#000" xml:space="preserve">2</text>
<text x="370.57" y="227.4" font-size="7.1" font-weight="bold" font-style="normal" fill="#000" textLength="7.93" lengthAdjust="spacingAndGlyphs" xml:space="preserve">10</text>
<text x="379.36" y="225" font-size="4" font-weight="bold" font-style="normal" fill="#000" xml:space="preserve">1</text>
<text x="406.96" y="280.2" font-size="8.2" font-weight="bold" font-style="normal" fill="#000" textLength="108.46" lengthAdjust="spacingAndGlyphs" xml:space="preserve">Eribulin concentration (nM)</text>
<text transform="translate(357 132.5) rotate(-90)" x="-70.64" y="0" font-size="8.2" font-weight="bold" font-style="normal" fill="#000" textLength="141.08" lengthAdjust="spacingAndGlyphs">Percentage of replication vs mitosis</text>
<text transform="translate(367.5 132.8) rotate(-90)" x="-42.62" y="0" font-size="8.2" font-weight="bold" font-style="normal" fill="#000" textLength="85.18" lengthAdjust="spacingAndGlyphs">(EdU/pH3 ratio) log10</text>
<line x1="547.6" y1="23.3" x2="558.2" y2="23.3" stroke="#e9b9be" stroke-width="0.8"/>
<path d="M552.9 20.88L555.32 25.28L550.48 25.28Z" fill="#dfa1a8"/>
<text x="563.31" y="26.3" font-size="8.7" font-weight="normal" font-style="normal" fill="#111" textLength="27.14" lengthAdjust="spacingAndGlyphs" xml:space="preserve">PDX22</text>
<line x1="547.6" y1="36.63" x2="558.2" y2="36.63" stroke="#e9b9be" stroke-width="0.8"/>
<circle cx="552.9" cy="36.63" r="1.54" fill="#dfa1a8"/>
<text x="563.32" y="39.63" font-size="8.7" font-weight="normal" font-style="normal" fill="#111" textLength="27.06" lengthAdjust="spacingAndGlyphs" xml:space="preserve">PDX25</text>
<line x1="547.6" y1="49.96" x2="558.2" y2="49.96" stroke="#e9b9be" stroke-width="0.8"/>
<path d="M552.9 47.76L555.1 51.72L550.7 51.72Z" fill="#fff" stroke="#dfa1a8" stroke-width="1"/>
<text x="563.32" y="52.96" font-size="8.7" font-weight="normal" font-style="normal" fill="#111" textLength="27.01" lengthAdjust="spacingAndGlyphs" xml:space="preserve">PDX30</text>
<line x1="547.6" y1="63.29" x2="558.2" y2="63.29" stroke="#e9b9be" stroke-width="0.8"/>
<circle cx="552.9" cy="63.29" r="1.65" fill="#dfa1a8"/>
<text x="563.32" y="66.29" font-size="8.7" font-weight="normal" font-style="normal" fill="#111" textLength="27.1" lengthAdjust="spacingAndGlyphs" xml:space="preserve">PDX39</text>
<line x1="547.6" y1="76.62" x2="558.2" y2="76.62" stroke="#e9b9be" stroke-width="0.8"/>
<circle cx="552.9" cy="76.62" r="2.2" fill="#dfa1a8"/>
<text x="563.32" y="79.62" font-size="8.7" font-weight="normal" font-style="normal" fill="#111" textLength="27.06" lengthAdjust="spacingAndGlyphs" xml:space="preserve">PDX38</text>
<line x1="547.6" y1="89.95" x2="558.2" y2="89.95" stroke="#e9b9be" stroke-width="0.8"/>
<line x1="551.14" y1="88.19" x2="554.66" y2="91.71" stroke="#dfa1a8" stroke-width="0.9"/>
<line x1="551.14" y1="91.71" x2="554.66" y2="88.19" stroke="#dfa1a8" stroke-width="0.9"/>
<text x="563.32" y="92.95" font-size="8.7" font-weight="normal" font-style="normal" fill="#111" textLength="27.1" lengthAdjust="spacingAndGlyphs" xml:space="preserve">PDX41</text>
<line x1="547.6" y1="103.28" x2="558.2" y2="103.28" stroke="#e9b9be" stroke-width="0.8"/>
<rect x="551.1" y="101.48" width="3.6" height="3.6" fill="#fff" stroke="#dfa1a8" stroke-width="1"/>
<text x="563.32" y="106.28" font-size="8.7" font-weight="normal" font-style="normal" fill="#111" textLength="27.06" lengthAdjust="spacingAndGlyphs" xml:space="preserve">PDX43</text>
<line x1="547.6" y1="116.61" x2="558.2" y2="116.61" stroke="#e9b9be" stroke-width="0.8"/>
<circle cx="552.9" cy="116.61" r="2.2" fill="#dfa1a8"/>
<text x="563.32" y="119.61" font-size="8.7" font-weight="normal" font-style="normal" fill="#111" textLength="27.06" lengthAdjust="spacingAndGlyphs" xml:space="preserve">PDX46</text>
<line x1="547.6" y1="129.94" x2="558.2" y2="129.94" stroke="#e9b9be" stroke-width="0.8"/>
<line x1="550.7" y1="129.94" x2="555.1" y2="129.94" stroke="#dfa1a8" stroke-width="0.9"/>
<line x1="552.9" y1="127.74" x2="552.9" y2="132.14" stroke="#dfa1a8" stroke-width="0.9"/>
<text x="563.32" y="132.94" font-size="8.7" font-weight="normal" font-style="normal" fill="#111" textLength="27.1" lengthAdjust="spacingAndGlyphs" xml:space="preserve">PDX49</text>
<line x1="547.6" y1="143.27" x2="558.2" y2="143.27" stroke="#e9b9be" stroke-width="0.8"/>
<circle cx="552.9" cy="143.27" r="1.8" fill="#fff" stroke="#dfa1a8" stroke-width="1"/>
<text x="563.32" y="146.27" font-size="8.7" font-weight="normal" font-style="normal" fill="#111" textLength="27.1" lengthAdjust="spacingAndGlyphs" xml:space="preserve">PDX51</text>
<line x1="547.6" y1="156.6" x2="558.2" y2="156.6" stroke="#e9b9be" stroke-width="0.8"/>
<circle cx="552.9" cy="156.6" r="1.9" fill="#dfa1a8" stroke="#dfa1a8" stroke-width="1"/>
<line x1="551.2" y1="156.6" x2="554.6" y2="156.6" stroke="#fff" stroke-width="0.8"/>
<text x="563.31" y="159.6" font-size="8.7" font-weight="normal" font-style="normal" fill="#111" textLength="27.14" lengthAdjust="spacingAndGlyphs" xml:space="preserve">PDX52</text>
<line x1="547.6" y1="169.93" x2="558.2" y2="169.93" stroke="#e9b9be" stroke-width="0.8"/>
<circle cx="552.9" cy="169.93" r="1.9" fill="#dfa1a8" stroke="#dfa1a8" stroke-width="1"/>
<line x1="551.2" y1="169.93" x2="554.6" y2="169.93" stroke="#fff" stroke-width="0.8"/>
<text x="563.32" y="172.93" font-size="8.7" font-weight="normal" font-style="normal" fill="#111" textLength="27.06" lengthAdjust="spacingAndGlyphs" xml:space="preserve">PDX53</text>
<line x1="547.6" y1="183.26" x2="558.2" y2="183.26" stroke="#e9b9be" stroke-width="0.8"/>
<circle cx="552.9" cy="183.26" r="1.9" fill="#dfa1a8" stroke="#dfa1a8" stroke-width="1"/>
<line x1="551.2" y1="183.26" x2="554.6" y2="183.26" stroke="#fff" stroke-width="0.8"/>
<text x="563.32" y="186.26" font-size="8.7" font-weight="normal" font-style="normal" fill="#111" textLength="27.1" lengthAdjust="spacingAndGlyphs" xml:space="preserve">PDX61</text>
<line x1="547.6" y1="196.59" x2="558.2" y2="196.59" stroke="#e9b9be" stroke-width="0.8"/>
<circle cx="552.9" cy="196.59" r="1.8" fill="#fff" stroke="#dfa1a8" stroke-width="1"/>
<text x="563.32" y="199.59" font-size="8.7" font-weight="normal" font-style="normal" fill="#111" textLength="27.1" lengthAdjust="spacingAndGlyphs" xml:space="preserve">PDX69</text>
<line x1="547.6" y1="209.92" x2="558.2" y2="209.92" stroke="#e9b9be" stroke-width="0.8"/>
<line x1="550.7" y1="209.92" x2="555.1" y2="209.92" stroke="#dfa1a8" stroke-width="0.9"/>
<line x1="552.9" y1="207.72" x2="552.9" y2="212.12" stroke="#dfa1a8" stroke-width="0.9"/>
<text x="563.32" y="212.92" font-size="8.7" font-weight="normal" font-style="normal" fill="#111" textLength="27.1" lengthAdjust="spacingAndGlyphs" xml:space="preserve">PDX71</text>
<line x1="597" y1="23.3" x2="607.4" y2="23.3" stroke="#7aaedb" stroke-width="0.8"/>
<circle cx="602.2" cy="23.3" r="2.2" fill="#5f9bd0"/>
<text x="612.91" y="26.3" font-size="8.7" font-weight="normal" font-style="normal" fill="#111" textLength="27.14" lengthAdjust="spacingAndGlyphs" xml:space="preserve">PDX17</text>
<line x1="597" y1="36.63" x2="607.4" y2="36.63" stroke="#7aaedb" stroke-width="0.8"/>
<rect x="600" y="34.43" width="4.4" height="4.4" fill="#5f9bd0"/>
<text x="612.92" y="39.63" font-size="8.7" font-weight="normal" font-style="normal" fill="#111" textLength="27.06" lengthAdjust="spacingAndGlyphs" xml:space="preserve">PDX18</text>
<line x1="597" y1="49.96" x2="607.4" y2="49.96" stroke="#7aaedb" stroke-width="0.8"/>
<path d="M602.2 52.38L604.62 47.98L599.78 47.98Z" fill="#5f9bd0"/>
<text x="612.92" y="52.96" font-size="8.7" font-weight="normal" font-style="normal" fill="#111" textLength="27.06" lengthAdjust="spacingAndGlyphs" xml:space="preserve">PDX23</text>
<line x1="597" y1="63.29" x2="607.4" y2="63.29" stroke="#7aaedb" stroke-width="0.8"/>
<circle cx="602.2" cy="63.29" r="1.8" fill="#fff" stroke="#5f9bd0" stroke-width="1"/>
<text x="612.92" y="66.29" font-size="8.7" font-weight="normal" font-style="normal" fill="#111" textLength="27.06" lengthAdjust="spacingAndGlyphs" xml:space="preserve">PDX28</text>
<line x1="597" y1="76.62" x2="607.4" y2="76.62" stroke="#7aaedb" stroke-width="0.8"/>
<rect x="600.4" y="74.82" width="3.6" height="3.6" fill="#fff" stroke="#5f9bd0" stroke-width="1"/>
<text x="612.92" y="79.62" font-size="8.7" font-weight="normal" font-style="normal" fill="#111" textLength="27.1" lengthAdjust="spacingAndGlyphs" xml:space="preserve">PDX29</text>
<line x1="597" y1="89.95" x2="607.4" y2="89.95" stroke="#7aaedb" stroke-width="0.8"/>
<path d="M602.2 92.15L604.4 88.19L600 88.19Z" fill="#fff" stroke="#5f9bd0" stroke-width="1"/>
<text x="612.92" y="92.95" font-size="8.7" font-weight="normal" font-style="normal" fill="#111" textLength="27.1" lengthAdjust="spacingAndGlyphs" xml:space="preserve">PDX31</text>
<line x1="597" y1="103.28" x2="607.4" y2="103.28" stroke="#7aaedb" stroke-width="0.8"/>
<path d="M602.2 101.08L604.4 103.28L602.2 105.48L600 103.28Z" fill="#fff" stroke="#5f9bd0" stroke-width="1"/>
<text x="612.91" y="106.28" font-size="8.7" font-weight="normal" font-style="normal" fill="#111" textLength="27.14" lengthAdjust="spacingAndGlyphs" xml:space="preserve">PDX37</text>
<line x1="597" y1="116.61" x2="607.4" y2="116.61" stroke="#7aaedb" stroke-width="0.8"/>
<circle cx="602.2" cy="116.61" r="1.54" fill="#5f9bd0"/>
<text x="612.92" y="119.61" font-size="8.7" font-weight="normal" font-style="normal" fill="#111" textLength="27.01" lengthAdjust="spacingAndGlyphs" xml:space="preserve">PDX40</text>
<line x1="597" y1="129.94" x2="607.4" y2="129.94" stroke="#7aaedb" stroke-width="0.8"/>
<circle cx="602.2" cy="129.94" r="1.8" fill="#fff" stroke="#5f9bd0" stroke-width="1"/>
<text x="612.91" y="132.94" font-size="8.7" font-weight="normal" font-style="normal" fill="#111" textLength="27.14" lengthAdjust="spacingAndGlyphs" xml:space="preserve">PDX42</text>
<line x1="597" y1="143.27" x2="607.4" y2="143.27" stroke="#7aaedb" stroke-width="0.8"/>
<circle cx="602.2" cy="143.27" r="1.9" fill="#5f9bd0" stroke="#5f9bd0" stroke-width="1"/>
<line x1="600.5" y1="143.27" x2="603.9" y2="143.27" stroke="#fff" stroke-width="0.8"/>
<text x="612.92" y="146.27" font-size="8.7" font-weight="normal" font-style="normal" fill="#111" textLength="26.97" lengthAdjust="spacingAndGlyphs" xml:space="preserve">PDX44</text>
<line x1="597" y1="156.6" x2="607.4" y2="156.6" stroke="#7aaedb" stroke-width="0.8"/>
<rect x="600" y="154.4" width="4.4" height="4.4" fill="#5f9bd0"/>
<text x="612.92" y="159.6" font-size="8.7" font-weight="normal" font-style="normal" fill="#111" textLength="27.06" lengthAdjust="spacingAndGlyphs" xml:space="preserve">PDX45</text>
<line x1="597" y1="169.93" x2="607.4" y2="169.93" stroke="#7aaedb" stroke-width="0.8"/>
<circle cx="602.2" cy="169.93" r="1.8" fill="#fff" stroke="#5f9bd0" stroke-width="1"/>
<text x="612.92" y="172.93" font-size="8.7" font-weight="normal" font-style="normal" fill="#111" textLength="27.06" lengthAdjust="spacingAndGlyphs" xml:space="preserve">PDX48</text>
<line x1="597" y1="183.26" x2="607.4" y2="183.26" stroke="#7aaedb" stroke-width="0.8"/>
<circle cx="602.2" cy="183.26" r="1.9" fill="#5f9bd0" stroke="#5f9bd0" stroke-width="1"/>
<line x1="600.5" y1="183.26" x2="603.9" y2="183.26" stroke="#fff" stroke-width="0.8"/>
<text x="612.92" y="186.26" font-size="8.7" font-weight="normal" font-style="normal" fill="#111" textLength="27.01" lengthAdjust="spacingAndGlyphs" xml:space="preserve">PDX60</text>
<line x1="597" y1="196.59" x2="607.4" y2="196.59" stroke="#7aaedb" stroke-width="0.8"/>
<rect x="600" y="194.39" width="4.4" height="4.4" fill="#5f9bd0"/>
<text x="612.91" y="199.59" font-size="8.7" font-weight="normal" font-style="normal" fill="#111" textLength="27.14" lengthAdjust="spacingAndGlyphs" xml:space="preserve">PDX72</text>
<line x1="597" y1="209.92" x2="607.4" y2="209.92" stroke="#7aaedb" stroke-width="0.8"/>
<rect x="600" y="207.72" width="4.4" height="4.4" fill="#5f9bd0"/>
<text x="612.92" y="212.92" font-size="8.7" font-weight="normal" font-style="normal" fill="#111" textLength="27.01" lengthAdjust="spacingAndGlyphs" xml:space="preserve">PDX70</text>
<line x1="597" y1="223.25" x2="607.4" y2="223.25" stroke="#7aaedb" stroke-width="0.8"/>
<circle cx="602.2" cy="223.25" r="1.8" fill="#fff" stroke="#5f9bd0" stroke-width="1"/>
<text x="612.92" y="226.25" font-size="8.7" font-weight="normal" font-style="normal" fill="#111" textLength="27.06" lengthAdjust="spacingAndGlyphs" xml:space="preserve">PDX76</text>
<line x1="549.6" y1="262.1" x2="561" y2="262.1" stroke="#d8909a" stroke-width="2"/>
<line x1="549.6" y1="276.8" x2="561" y2="276.8" stroke="#5a93c8" stroke-width="2"/>
<text x="570.21" y="266.6" font-size="11.8" font-weight="normal" font-style="normal" fill="#111" textLength="57.33" lengthAdjust="spacingAndGlyphs" xml:space="preserve">Responder </text>
<text x="627.55" y="266.6" font-size="11.8" font-weight="normal" font-style="italic" fill="#111" textLength="34.51" lengthAdjust="spacingAndGlyphs" xml:space="preserve">ex vivo</text>
<text x="570.19" y="279.8" font-size="11.8" font-weight="normal" font-style="normal" fill="#111" textLength="78.78" lengthAdjust="spacingAndGlyphs" xml:space="preserve">Non-responder </text>
<text x="648.98" y="279.8" font-size="11.8" font-weight="normal" font-style="italic" fill="#111" textLength="35.29" lengthAdjust="spacingAndGlyphs" xml:space="preserve">ex vivo</text>
<text x="97.99" y="313.9" font-size="11.3" font-weight="bold" font-style="normal" fill="#000" textLength="50.16" lengthAdjust="spacingAndGlyphs" xml:space="preserve">Paclitaxel</text>
<line x1="98.4" y1="316" x2="147.7" y2="316" stroke="#111" stroke-width="1.3"/>
<text x="337.6" y="311.9" font-size="11.3" font-weight="bold" font-style="normal" fill="#000" textLength="39.86" lengthAdjust="spacingAndGlyphs" xml:space="preserve">Eribulin</text>
<line x1="338" y1="313.8" x2="377" y2="313.8" stroke="#111" stroke-width="1.3"/>
<text x="87.44" y="337.5" font-size="11.5" font-weight="normal" font-style="normal" fill="#111" textLength="12.28" lengthAdjust="spacingAndGlyphs" xml:space="preserve">#1</text>
<text x="115.24" y="337.5" font-size="11.5" font-weight="normal" font-style="normal" fill="#111" textLength="12.34" lengthAdjust="spacingAndGlyphs" xml:space="preserve">#2</text>
<text x="143.95" y="337.5" font-size="11.5" font-weight="normal" font-style="normal" fill="#111" textLength="11.91" lengthAdjust="spacingAndGlyphs" xml:space="preserve">#3</text>
<text x="312.14" y="337.6" font-size="11.5" font-weight="normal" font-style="normal" fill="#111" textLength="12.28" lengthAdjust="spacingAndGlyphs" xml:space="preserve">#1</text>
<text x="339.94" y="337.6" font-size="11.5" font-weight="normal" font-style="normal" fill="#111" textLength="12.65" lengthAdjust="spacingAndGlyphs" xml:space="preserve">#2</text>
<text x="368.55" y="337.6" font-size="11.5" font-weight="normal" font-style="normal" fill="#111" textLength="12.22" lengthAdjust="spacingAndGlyphs" xml:space="preserve">#3</text>
<text x="182.48" y="338" font-size="11.5" font-weight="normal" font-style="normal" fill="#111" textLength="96.23" lengthAdjust="spacingAndGlyphs" xml:space="preserve">Reproducibility (%)</text>
<text x="407.07" y="338" font-size="11.5" font-weight="normal" font-style="normal" fill="#111" textLength="97.14" lengthAdjust="spacingAndGlyphs" xml:space="preserve">Reproducibility (%)</text>
<text x="28.75" y="365.5" font-size="11.5" font-weight="normal" font-style="normal" fill="#111" textLength="42.46" lengthAdjust="spacingAndGlyphs" xml:space="preserve">HBCx-11</text>
<rect x="84" y="348.4" width="23" height="25.3" fill="#7ba7cb"/>
<text x="87.89" y="365.2" font-size="11.8" font-weight="normal" font-style="normal" fill="#111" xml:space="preserve">28</text>
<rect x="111.6" y="348.4" width="23" height="25.3" fill="#dfb0b4"/>
<text x="115.58" y="365.2" font-size="11.8" font-weight="normal" font-style="normal" fill="#111" xml:space="preserve">39</text>
<rect x="140" y="348.4" width="22.6" height="25.3" fill="#dfb0b4"/>
<text x="143.63" y="365.2" font-size="11.8" font-weight="normal" font-style="normal" fill="#111" xml:space="preserve">64</text>
<text x="188.05" y="365.5" font-size="11.5" font-weight="normal" font-style="normal" fill="#111" textLength="30.93" lengthAdjust="spacingAndGlyphs" xml:space="preserve">66.7%</text>
<rect x="308" y="348.4" width="23.2" height="25.3" fill="#7ba7cb"/>
<text x="311.9" y="365.2" font-size="11.8" font-weight="normal" font-style="normal" fill="#111" xml:space="preserve">17</text>
<rect x="336" y="348.4" width="23" height="25.3" fill="#7ba7cb"/>
<text x="339.89" y="365.2" font-size="11.8" font-weight="normal" font-style="normal" fill="#111" xml:space="preserve">28</text>
<rect x="364.2" y="348.4" width="23.2" height="25.3" fill="#dfb0b4"/>
<text x="368.28" y="365.2" font-size="11.8" font-weight="normal" font-style="normal" fill="#111" xml:space="preserve">39</text>
<text x="412.05" y="365.5" font-size="11.5" font-weight="normal" font-style="normal" fill="#111" textLength="30.93" lengthAdjust="spacingAndGlyphs" xml:space="preserve">66.7%</text>
<text x="28.75" y="398.1" font-size="11.5" font-weight="normal" font-style="normal" fill="#111" textLength="43.25" lengthAdjust="spacingAndGlyphs" xml:space="preserve">HBCx-39</text>
<rect x="84" y="381" width="23" height="25.3" fill="#7ba7cb"/>
<text x="87.92" y="397.8" font-size="11.8" font-weight="normal" font-style="normal" fill="#111" xml:space="preserve">29</text>
<rect x="111.6" y="381" width="23" height="25.3" fill="#7ba7cb"/>
<text x="115.58" y="397.8" font-size="11.8" font-weight="normal" font-style="normal" fill="#111" xml:space="preserve">59</text>
<rect x="140" y="381" width="22.6" height="25.3" fill="#7ba7cb"/>
<text x="143.75" y="397.8" font-size="11.8" font-weight="normal" font-style="normal" fill="#111" xml:space="preserve">62</text>
<text x="187.78" y="398.1" font-size="11.5" font-weight="normal" font-style="normal" fill="#111" textLength="27.9" lengthAdjust="spacingAndGlyphs" xml:space="preserve">100%</text>
<rect x="308" y="381" width="23.2" height="25.3" fill="#7ba7cb"/>
<text x="311.84" y="397.8" font-size="11.8" font-weight="normal" font-style="normal" fill="#111" xml:space="preserve">18</text>
<rect x="336" y="381" width="23" height="25.3" fill="#7ba7cb"/>
<text x="339.92" y="397.8" font-size="11.8" font-weight="normal" font-style="normal" fill="#111" xml:space="preserve">29</text>
<rect x="364.2" y="381" width="23.2" height="25.3" fill="#7ba7cb"/>
<text x="368.37" y="397.8" font-size="11.8" font-weight="normal" font-style="normal" fill="#111" xml:space="preserve">45</text>
<text x="411.78" y="398.1" font-size="11.5" font-weight="normal" font-style="normal" fill="#111" textLength="27.9" lengthAdjust="spacingAndGlyphs" xml:space="preserve">100%</text>
<text x="28.75" y="430.1" font-size="11.5" font-weight="normal" font-style="normal" fill="#111" textLength="49.18" lengthAdjust="spacingAndGlyphs" xml:space="preserve">HBCx-204</text>
<rect x="84" y="413" width="23" height="25.3" fill="#dfb0b4"/>
<text x="88.1" y="429.8" font-size="11.8" font-weight="normal" font-style="normal" fill="#111" xml:space="preserve">41</text>
<rect x="111.6" y="413" width="23" height="25.3" fill="#dfb0b4"/>
<text x="115.7" y="429.8" font-size="11.8" font-weight="normal" font-style="normal" fill="#111" xml:space="preserve">49</text>
<rect x="140" y="413" width="22.6" height="25.3" fill="#dfb0b4"/>
<text x="143.72" y="429.8" font-size="11.8" font-weight="normal" font-style="normal" fill="#111" xml:space="preserve">50</text>
<text x="187.78" y="430.1" font-size="11.5" font-weight="normal" font-style="normal" fill="#111" textLength="27.9" lengthAdjust="spacingAndGlyphs" xml:space="preserve">100%</text>
<rect x="308" y="413" width="23.2" height="25.3" fill="#dfb0b4"/>
<text x="312.05" y="429.8" font-size="11.8" font-weight="normal" font-style="normal" fill="#111" xml:space="preserve">22</text>
<rect x="336" y="413" width="23" height="25.3" fill="#dfb0b4"/>
<text x="340.1" y="429.8" font-size="11.8" font-weight="normal" font-style="normal" fill="#111" xml:space="preserve">41</text>
<rect x="364.2" y="413" width="23.2" height="25.3" fill="#dfb0b4"/>
<text x="368.4" y="429.8" font-size="11.8" font-weight="normal" font-style="normal" fill="#111" xml:space="preserve">49</text>
<text x="411.78" y="430.1" font-size="11.5" font-weight="normal" font-style="normal" fill="#111" textLength="27.9" lengthAdjust="spacingAndGlyphs" xml:space="preserve">100%</text>
<text x="28.75" y="459.1" font-size="11.5" font-weight="normal" font-style="normal" fill="#111" textLength="49.18" lengthAdjust="spacingAndGlyphs" xml:space="preserve">HBCx-216</text>
<rect x="84" y="442" width="23" height="25.3" fill="#7ba7cb"/>
<text x="88.04" y="458.8" font-size="11.8" font-weight="normal" font-style="normal" fill="#111" xml:space="preserve">40</text>
<rect x="111.6" y="442" width="23" height="25.3" fill="#7ba7cb"/>
<text x="115.73" y="458.8" font-size="11.8" font-weight="normal" font-style="normal" fill="#111" xml:space="preserve">42</text>
<rect x="140" y="442" width="22.6" height="25.3" fill="#7ba7cb"/>
<text x="143.78" y="458.8" font-size="11.8" font-weight="normal" font-style="normal" fill="#111" xml:space="preserve">51</text>
<text x="187.78" y="459.1" font-size="11.5" font-weight="normal" font-style="normal" fill="#111" textLength="27.9" lengthAdjust="spacingAndGlyphs" xml:space="preserve">100%</text>
<rect x="308" y="442" width="23.2" height="25.3" fill="#7ba7cb"/>
<text x="312.14" y="458.8" font-size="11.8" font-weight="normal" font-style="normal" fill="#111" xml:space="preserve">40</text>
<rect x="336" y="442" width="23" height="25.3" fill="#7ba7cb"/>
<text x="340.13" y="458.8" font-size="11.8" font-weight="normal" font-style="normal" fill="#111" xml:space="preserve">42</text>
<rect x="364.2" y="442" width="23.2" height="25.3" fill="#dfb0b4"/>
<text x="368.28" y="458.8" font-size="11.8" font-weight="normal" font-style="normal" fill="#111" xml:space="preserve">51</text>
<text x="412.05" y="459.1" font-size="11.5" font-weight="normal" font-style="normal" fill="#111" textLength="30.93" lengthAdjust="spacingAndGlyphs" xml:space="preserve">66.7%</text>
<text x="28.75" y="488.1" font-size="11.5" font-weight="normal" font-style="normal" fill="#111" textLength="49.18" lengthAdjust="spacingAndGlyphs" xml:space="preserve">HBCx-147</text>
<rect x="84" y="471" width="23" height="25.3" fill="#dfb0b4"/>
<text x="87.98" y="487.8" font-size="11.8" font-weight="normal" font-style="normal" fill="#111" xml:space="preserve">31</text>
<rect x="111.6" y="471" width="23" height="25.3" fill="#7ba7cb"/>
<text x="115.61" y="487.8" font-size="11.8" font-weight="normal" font-style="normal" fill="#111" xml:space="preserve">37</text>
<rect x="140.6" y="473" width="23.4" height="25.4" fill="#7ba7cb"/>
<text x="144.69" y="489.8" font-size="11.8" font-weight="normal" font-style="normal" fill="#111" xml:space="preserve">75</text>
<text x="188.05" y="488.1" font-size="11.5" font-weight="normal" font-style="normal" fill="#111" textLength="30.93" lengthAdjust="spacingAndGlyphs" xml:space="preserve">66.7%</text>
<rect x="308" y="471" width="23.2" height="25.3" fill="#7ba7cb"/>
<text x="311.99" y="487.8" font-size="11.8" font-weight="normal" font-style="normal" fill="#111" xml:space="preserve">23</text>
<rect x="336" y="471" width="23" height="25.3" fill="#7ba7cb"/>
<text x="339.98" y="487.8" font-size="11.8" font-weight="normal" font-style="normal" fill="#111" xml:space="preserve">31</text>
<rect x="363.2" y="470" width="23" height="25.2" fill="#dfb0b4"/>
<text x="367.21" y="486.8" font-size="11.8" font-weight="normal" font-style="normal" fill="#111" xml:space="preserve">37</text>
<text x="412.05" y="488.1" font-size="11.5" font-weight="normal" font-style="normal" fill="#111" textLength="30.93" lengthAdjust="spacingAndGlyphs" xml:space="preserve">66.7%</text>
<text x="28.75" y="516.5" font-size="11.5" font-weight="normal" font-style="normal" fill="#111" textLength="44.43" lengthAdjust="spacingAndGlyphs" xml:space="preserve">HBCx-4B</text>
<rect x="84" y="499.4" width="23" height="25.3" fill="#dfb0b4"/>
<text x="87.92" y="516.2" font-size="11.8" font-weight="normal" font-style="normal" fill="#111" xml:space="preserve">30</text>
<rect x="111.6" y="499.4" width="23" height="25.3" fill="#dfb0b4"/>
<text x="115.55" y="516.2" font-size="11.8" font-weight="normal" font-style="normal" fill="#111" xml:space="preserve">38</text>
<rect x="140" y="499.4" width="22.6" height="25.3" fill="#dfb0b4"/>
<text x="143.93" y="516.2" font-size="11.8" font-weight="normal" font-style="normal" fill="#111" xml:space="preserve">47</text>
<text x="187.78" y="516.5" font-size="11.5" font-weight="normal" font-style="normal" fill="#111" textLength="27.9" lengthAdjust="spacingAndGlyphs" xml:space="preserve">100%</text>
<rect x="308" y="499.4" width="23.2" height="25.3" fill="#dfb0b4"/>
<text x="311.99" y="516.2" font-size="11.8" font-weight="normal" font-style="normal" fill="#111" xml:space="preserve">25</text>
<rect x="336" y="499.4" width="23" height="25.3" fill="#dfb0b4"/>
<text x="339.92" y="516.2" font-size="11.8" font-weight="normal" font-style="normal" fill="#111" xml:space="preserve">30</text>
<rect x="364.2" y="499.4" width="23.2" height="25.3" fill="#dfb0b4"/>
<text x="368.25" y="516.2" font-size="11.8" font-weight="normal" font-style="normal" fill="#111" xml:space="preserve">38</text>
<text x="411.78" y="516.5" font-size="11.5" font-weight="normal" font-style="normal" fill="#111" textLength="27.9" lengthAdjust="spacingAndGlyphs" xml:space="preserve">100%</text>
<text x="28.75" y="545.5" font-size="11.5" font-weight="normal" font-style="normal" fill="#111" textLength="49.18" lengthAdjust="spacingAndGlyphs" xml:space="preserve">HBCx-209</text>
<rect x="84" y="528.4" width="23" height="25.3" fill="#dfb0b4"/>
<text x="88.07" y="545.2" font-size="11.8" font-weight="normal" font-style="normal" fill="#111" xml:space="preserve">43</text>
<rect x="111.6" y="528.4" width="23" height="25.3" fill="#7ba7cb"/>
<text x="115.52" y="545.2" font-size="11.8" font-weight="normal" font-style="normal" fill="#111" xml:space="preserve">61</text>
<rect x="140" y="528.4" width="22.6" height="25.3" fill="#dfb0b4"/>
<text x="143.72" y="545.2" font-size="11.8" font-weight="normal" font-style="normal" fill="#111" xml:space="preserve">69</text>
<text x="188.05" y="545.5" font-size="11.5" font-weight="normal" font-style="normal" fill="#111" textLength="30.93" lengthAdjust="spacingAndGlyphs" xml:space="preserve">66.7%</text>
<rect x="308" y="528.4" width="23.2" height="25.3" fill="#dfb0b4"/>
<text x="312.17" y="545.2" font-size="11.8" font-weight="normal" font-style="normal" fill="#111" xml:space="preserve">43</text>
<rect x="336" y="528.4" width="23" height="25.3" fill="#dfb0b4"/>
<text x="339.92" y="545.2" font-size="11.8" font-weight="normal" font-style="normal" fill="#111" xml:space="preserve">61</text>
<rect x="364.2" y="528.4" width="23.2" height="25.3" fill="#dfb0b4"/>
<text x="368.22" y="545.2" font-size="11.8" font-weight="normal" font-style="normal" fill="#111" xml:space="preserve">69</text>
<text x="411.78" y="545.5" font-size="11.5" font-weight="normal" font-style="normal" fill="#111" textLength="27.9" lengthAdjust="spacingAndGlyphs" xml:space="preserve">100%</text>
<text x="28.75" y="574.1" font-size="11.5" font-weight="normal" font-style="normal" fill="#111" textLength="37.32" lengthAdjust="spacingAndGlyphs" xml:space="preserve">HBCx-3</text>
<rect x="84" y="557" width="23" height="25.3" fill="#dfb0b4"/>
<text x="88.01" y="573.8" font-size="11.8" font-weight="normal" font-style="normal" fill="#111" xml:space="preserve">44</text>
<rect x="111.6" y="557" width="23" height="25.3" fill="#dfb0b4"/>
<text x="115.67" y="573.8" font-size="11.8" font-weight="normal" font-style="normal" fill="#111" xml:space="preserve">48</text>
<rect x="140" y="557" width="22.6" height="25.3" fill="#7ba7cb"/>
<text x="143.69" y="573.8" font-size="11.8" font-weight="normal" font-style="normal" fill="#111" xml:space="preserve">76</text>
<text x="188.05" y="574.1" font-size="11.5" font-weight="normal" font-style="normal" fill="#111" textLength="30.93" lengthAdjust="spacingAndGlyphs" xml:space="preserve">66.7%</text>
<rect x="308" y="557" width="23.2" height="25.3" fill="#7ba7cb"/>
<text x="312.11" y="573.8" font-size="11.8" font-weight="normal" font-style="normal" fill="#111" xml:space="preserve">44</text>
<rect x="336" y="557" width="23" height="25.3" fill="#7ba7cb"/>
<text x="340.07" y="573.8" font-size="11.8" font-weight="normal" font-style="normal" fill="#111" xml:space="preserve">48</text>
<rect x="364.2" y="557" width="23.2" height="25.3" fill="#7ba7cb"/>
<text x="368.19" y="573.8" font-size="11.8" font-weight="normal" font-style="normal" fill="#111" xml:space="preserve">76</text>
<text x="411.78" y="574.1" font-size="11.5" font-weight="normal" font-style="normal" fill="#111" textLength="27.9" lengthAdjust="spacingAndGlyphs" xml:space="preserve">100%</text>
<text x="28.75" y="602.7" font-size="11.5" font-weight="normal" font-style="normal" fill="#111" textLength="49.18" lengthAdjust="spacingAndGlyphs" xml:space="preserve">HBCx-131</text>
<rect x="84" y="585.6" width="23" height="25.3" fill="#dfb0b4"/>
<text x="88.07" y="602.4" font-size="11.8" font-weight="normal" font-style="normal" fill="#111" xml:space="preserve">46</text>
<rect x="111.6" y="585.6" width="23" height="25.3" fill="#7ba7cb"/>
<text x="115.61" y="602.4" font-size="11.8" font-weight="normal" font-style="normal" fill="#111" xml:space="preserve">52</text>
<rect x="140" y="585.6" width="22.6" height="25.3" fill="#7ba7cb"/>
<text x="143.66" y="602.4" font-size="11.8" font-weight="normal" font-style="normal" fill="#111" xml:space="preserve">70</text>
<text x="188.05" y="602.7" font-size="11.5" font-weight="normal" font-style="normal" fill="#111" textLength="30.93" lengthAdjust="spacingAndGlyphs" xml:space="preserve">66.7%</text>
<rect x="308" y="585.6" width="23.2" height="25.3" fill="#dfb0b4"/>
<text x="312.17" y="602.4" font-size="11.8" font-weight="normal" font-style="normal" fill="#111" xml:space="preserve">46</text>
<rect x="336" y="585.6" width="23" height="25.3" fill="#dfb0b4"/>
<text x="340.01" y="602.4" font-size="11.8" font-weight="normal" font-style="normal" fill="#111" xml:space="preserve">52</text>
<rect x="364.2" y="585.6" width="23.2" height="25.3" fill="#7ba7cb"/>
<text x="368.16" y="602.4" font-size="11.8" font-weight="normal" font-style="normal" fill="#111" xml:space="preserve">70</text>
<text x="412.05" y="602.7" font-size="11.5" font-weight="normal" font-style="normal" fill="#111" textLength="30.93" lengthAdjust="spacingAndGlyphs" xml:space="preserve">66.7%</text>
<text x="28.75" y="632.1" font-size="11.5" font-weight="normal" font-style="normal" fill="#111" textLength="49.18" lengthAdjust="spacingAndGlyphs" xml:space="preserve">HBCx-137</text>
<rect x="84" y="615" width="23" height="25.3" fill="#dfb0b4"/>
<text x="87.95" y="631.8" font-size="11.8" font-weight="normal" font-style="normal" fill="#111" xml:space="preserve">53</text>
<rect x="113" y="615" width="23" height="25.3" fill="#7ba7cb"/>
<text x="116.92" y="631.8" font-size="11.8" font-weight="normal" font-style="normal" fill="#111" xml:space="preserve">71</text>
<rect x="140.2" y="615" width="23" height="25.3" fill="#dfb0b4"/>
<text x="144.15" y="631.8" font-size="11.8" font-weight="normal" font-style="normal" fill="#111" xml:space="preserve">72</text>
<text x="188.05" y="632.1" font-size="11.5" font-weight="normal" font-style="normal" fill="#111" textLength="30.93" lengthAdjust="spacingAndGlyphs" xml:space="preserve">66.7%</text>
<rect x="308" y="615" width="23.2" height="25.3" fill="#dfb0b4"/>
<text x="312.05" y="631.8" font-size="11.8" font-weight="normal" font-style="normal" fill="#111" xml:space="preserve">53</text>
<rect x="336" y="615" width="23" height="25.3" fill="#dfb0b4"/>
<text x="339.92" y="631.8" font-size="11.8" font-weight="normal" font-style="normal" fill="#111" xml:space="preserve">71</text>
<rect x="364.2" y="615" width="23.2" height="25.3" fill="#7ba7cb"/>
<text x="368.25" y="631.8" font-size="11.8" font-weight="normal" font-style="normal" fill="#111" xml:space="preserve">72</text>
<text x="412.05" y="632.1" font-size="11.5" font-weight="normal" font-style="normal" fill="#111" textLength="30.93" lengthAdjust="spacingAndGlyphs" xml:space="preserve">66.7%</text>
<text x="28.7" y="670" font-size="11.5" font-weight="bold" font-style="normal" fill="#111" textLength="129.62" lengthAdjust="spacingAndGlyphs" xml:space="preserve">Reproducibility (average)</text>
<text x="28.87" y="684.2" font-size="11.5" font-weight="bold" font-style="italic" fill="#111" textLength="118.7" lengthAdjust="spacingAndGlyphs" xml:space="preserve">within ex vivo response</text>
<text x="28.7" y="700.9" font-size="11.5" font-weight="bold" font-style="normal" fill="#111" textLength="129.62" lengthAdjust="spacingAndGlyphs" xml:space="preserve">Reproducibility (average)</text>
<text x="29.25" y="714.3" font-size="11.5" font-weight="bold" font-style="italic" fill="#111" textLength="32.7" lengthAdjust="spacingAndGlyphs" xml:space="preserve">in vivo</text>
<text x="61.95" y="714.3" font-size="11.5" font-weight="bold" font-style="normal" fill="#111" textLength="17.22" lengthAdjust="spacingAndGlyphs" xml:space="preserve"> vs </text>
<text x="79.16" y="714.3" font-size="11.5" font-weight="bold" font-style="italic" fill="#111" textLength="35.01" lengthAdjust="spacingAndGlyphs" xml:space="preserve">ex vivo</text>
<text x="114.17" y="714.3" font-size="11.5" font-weight="bold" font-style="normal" fill="#111" textLength="3.44" lengthAdjust="spacingAndGlyphs" xml:space="preserve">:</text>
<text x="188.18" y="669.9" font-size="11.2" font-weight="bold" font-style="normal" fill="#111" textLength="21.61" lengthAdjust="spacingAndGlyphs" xml:space="preserve">80%</text>
<text x="188.07" y="707.6" font-size="11.2" font-weight="bold" font-style="normal" fill="#111" textLength="21.72" lengthAdjust="spacingAndGlyphs" xml:space="preserve">70%</text>
<text x="413.17" y="670" font-size="11.2" font-weight="bold" font-style="normal" fill="#111" textLength="31.01" lengthAdjust="spacingAndGlyphs" xml:space="preserve">83.3%</text>
<rect x="497.7" y="594.2" width="12.4" height="13.2" fill="#dfb0b4"/>
<rect x="497.7" y="616.1" width="11.8" height="12.6" fill="#7ba7cb"/>
<text x="520.42" y="604.7" font-size="11.5" font-weight="normal" font-style="normal" fill="#111" textLength="57.08" lengthAdjust="spacingAndGlyphs" xml:space="preserve">Responder </text>
<text x="577.5" y="604.7" font-size="11.5" font-weight="normal" font-style="italic" fill="#111" textLength="34.36" lengthAdjust="spacingAndGlyphs" xml:space="preserve">ex vivo</text>
<text x="518.69" y="627.1" font-size="11.5" font-weight="normal" font-style="normal" fill="#111" textLength="78.72" lengthAdjust="spacingAndGlyphs" xml:space="preserve">Non-responder </text>
<text x="597.41" y="627.1" font-size="11.5" font-weight="normal" font-style="italic" fill="#111" textLength="35.26" lengthAdjust="spacingAndGlyphs" xml:space="preserve">ex vivo</text>
</svg>
</body></html>
